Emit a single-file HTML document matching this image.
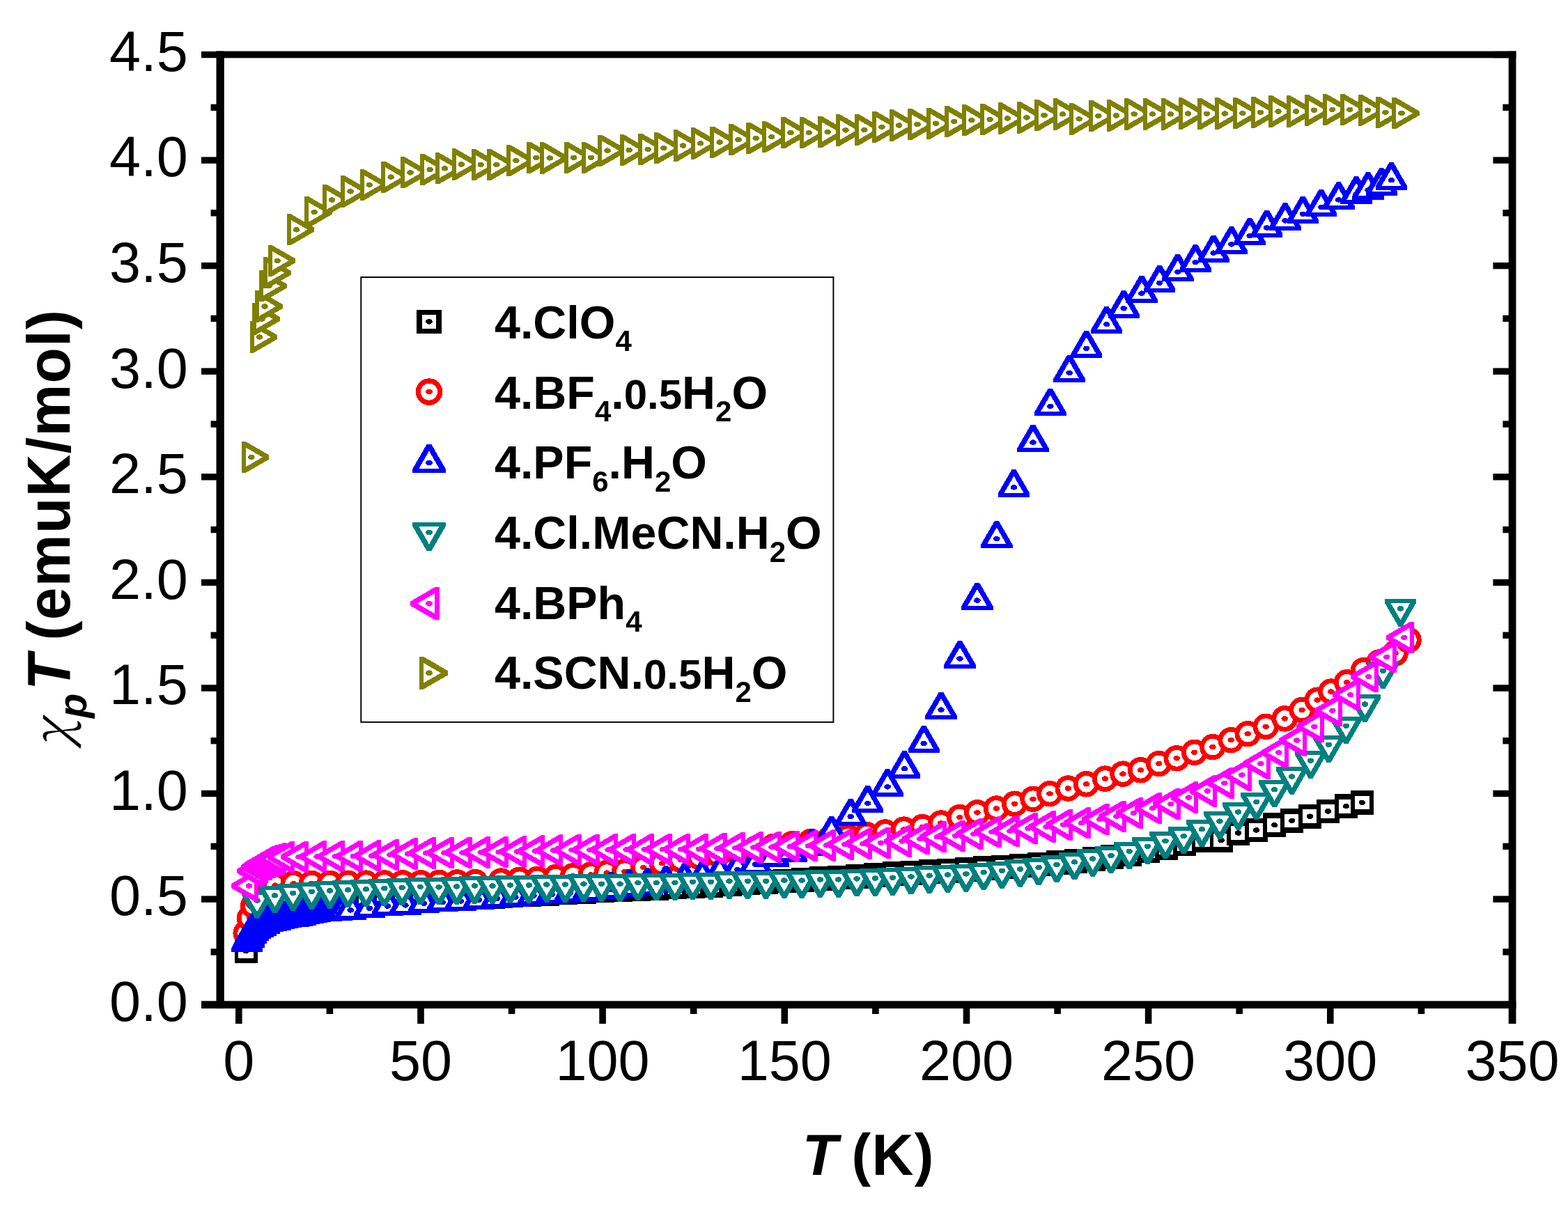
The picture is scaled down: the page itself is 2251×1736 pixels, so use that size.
<!DOCTYPE html>
<html><head><meta charset="utf-8"><title>chiT vs T</title>
<style>html,body{margin:0;padding:0;background:#fff;} svg{display:block;}</style></head>
<body><svg width="2251" height="1736" viewBox="0 0 2251 1736">
<rect width="2251" height="1736" fill="#fff"/>
<g shape-rendering="crispEdges">
<rect x="336.5" y="1348.4" width="33.0" height="34.7" fill="#000000"/><rect x="342.1" y="1355.8" width="21.8" height="19.9" fill="#fff"/><ellipse cx="353.0" cy="1365.7" rx="4.8" ry="3.8" fill="#000000"/>
<rect x="342.0" y="1325.4" width="33.0" height="34.7" fill="#000000"/><rect x="347.6" y="1332.8" width="21.8" height="19.9" fill="#fff"/><ellipse cx="358.5" cy="1342.7" rx="4.8" ry="3.8" fill="#000000"/>
<rect x="344.6" y="1323.1" width="33.0" height="34.7" fill="#000000"/><rect x="350.2" y="1330.5" width="21.8" height="19.9" fill="#fff"/><ellipse cx="361.1" cy="1340.4" rx="4.8" ry="3.8" fill="#000000"/>
<rect x="347.2" y="1320.8" width="33.0" height="34.7" fill="#000000"/><rect x="352.8" y="1328.1" width="21.8" height="19.9" fill="#fff"/><ellipse cx="363.7" cy="1338.1" rx="4.8" ry="3.8" fill="#000000"/>
<rect x="349.8" y="1316.2" width="33.0" height="34.7" fill="#000000"/><rect x="355.4" y="1323.6" width="21.8" height="19.9" fill="#fff"/><ellipse cx="366.3" cy="1333.6" rx="4.8" ry="3.8" fill="#000000"/>
<rect x="352.4" y="1311.7" width="33.0" height="34.7" fill="#000000"/><rect x="358.0" y="1319.0" width="21.8" height="19.9" fill="#fff"/><ellipse cx="368.9" cy="1329.0" rx="4.8" ry="3.8" fill="#000000"/>
<rect x="357.6" y="1308.7" width="33.0" height="34.7" fill="#000000"/><rect x="363.2" y="1316.0" width="21.8" height="19.9" fill="#fff"/><ellipse cx="374.1" cy="1326.0" rx="4.8" ry="3.8" fill="#000000"/>
<rect x="362.9" y="1305.7" width="33.0" height="34.7" fill="#000000"/><rect x="368.5" y="1313.0" width="21.8" height="19.9" fill="#fff"/><ellipse cx="379.4" cy="1323.0" rx="4.8" ry="3.8" fill="#000000"/>
<rect x="368.1" y="1304.1" width="33.0" height="34.7" fill="#000000"/><rect x="373.7" y="1311.5" width="21.8" height="19.9" fill="#fff"/><ellipse cx="384.6" cy="1321.4" rx="4.8" ry="3.8" fill="#000000"/>
<rect x="373.3" y="1302.6" width="33.0" height="34.7" fill="#000000"/><rect x="378.9" y="1310.0" width="21.8" height="19.9" fill="#fff"/><ellipse cx="389.8" cy="1319.9" rx="4.8" ry="3.8" fill="#000000"/>
<rect x="378.5" y="1301.1" width="33.0" height="34.7" fill="#000000"/><rect x="384.1" y="1308.5" width="21.8" height="19.9" fill="#fff"/><ellipse cx="395.0" cy="1318.4" rx="4.8" ry="3.8" fill="#000000"/>
<rect x="404.7" y="1295.0" width="33.0" height="34.7" fill="#000000"/><rect x="410.3" y="1302.3" width="21.8" height="19.9" fill="#fff"/><ellipse cx="421.2" cy="1312.3" rx="4.8" ry="3.8" fill="#000000"/>
<rect x="430.8" y="1289.0" width="33.0" height="34.7" fill="#000000"/><rect x="436.4" y="1296.3" width="21.8" height="19.9" fill="#fff"/><ellipse cx="447.3" cy="1306.3" rx="4.8" ry="3.8" fill="#000000"/>
<rect x="456.9" y="1287.0" width="33.0" height="34.7" fill="#000000"/><rect x="462.5" y="1294.3" width="21.8" height="19.9" fill="#fff"/><ellipse cx="473.4" cy="1304.3" rx="4.8" ry="3.8" fill="#000000"/>
<rect x="483.0" y="1285.0" width="33.0" height="34.7" fill="#000000"/><rect x="488.6" y="1292.3" width="21.8" height="19.9" fill="#fff"/><ellipse cx="499.5" cy="1302.3" rx="4.8" ry="3.8" fill="#000000"/>
<rect x="509.1" y="1282.2" width="33.0" height="34.7" fill="#000000"/><rect x="514.7" y="1289.5" width="21.8" height="19.9" fill="#fff"/><ellipse cx="525.6" cy="1299.5" rx="4.8" ry="3.8" fill="#000000"/>
<rect x="535.2" y="1279.2" width="33.0" height="34.7" fill="#000000"/><rect x="540.8" y="1286.6" width="21.8" height="19.9" fill="#fff"/><ellipse cx="551.7" cy="1296.6" rx="4.8" ry="3.8" fill="#000000"/>
<rect x="561.4" y="1277.2" width="33.0" height="34.7" fill="#000000"/><rect x="567.0" y="1284.6" width="21.8" height="19.9" fill="#fff"/><ellipse cx="577.9" cy="1294.6" rx="4.8" ry="3.8" fill="#000000"/>
<rect x="587.5" y="1275.2" width="33.0" height="34.7" fill="#000000"/><rect x="593.1" y="1282.6" width="21.8" height="19.9" fill="#fff"/><ellipse cx="604.0" cy="1292.6" rx="4.8" ry="3.8" fill="#000000"/>
<rect x="613.6" y="1274.0" width="33.0" height="34.7" fill="#000000"/><rect x="619.2" y="1281.3" width="21.8" height="19.9" fill="#fff"/><ellipse cx="630.1" cy="1291.3" rx="4.8" ry="3.8" fill="#000000"/>
<rect x="639.7" y="1272.7" width="33.0" height="34.7" fill="#000000"/><rect x="645.3" y="1280.0" width="21.8" height="19.9" fill="#fff"/><ellipse cx="656.2" cy="1290.0" rx="4.8" ry="3.8" fill="#000000"/>
<rect x="665.8" y="1271.4" width="33.0" height="34.7" fill="#000000"/><rect x="671.4" y="1278.8" width="21.8" height="19.9" fill="#fff"/><ellipse cx="682.3" cy="1288.7" rx="4.8" ry="3.8" fill="#000000"/>
<rect x="691.9" y="1270.0" width="33.0" height="34.7" fill="#000000"/><rect x="697.5" y="1277.3" width="21.8" height="19.9" fill="#fff"/><ellipse cx="708.4" cy="1287.3" rx="4.8" ry="3.8" fill="#000000"/>
<rect x="718.1" y="1268.6" width="33.0" height="34.7" fill="#000000"/><rect x="723.7" y="1276.0" width="21.8" height="19.9" fill="#fff"/><ellipse cx="734.6" cy="1285.9" rx="4.8" ry="3.8" fill="#000000"/>
<rect x="744.2" y="1267.2" width="33.0" height="34.7" fill="#000000"/><rect x="749.8" y="1274.5" width="21.8" height="19.9" fill="#fff"/><ellipse cx="760.7" cy="1284.5" rx="4.8" ry="3.8" fill="#000000"/>
<rect x="770.3" y="1265.9" width="33.0" height="34.7" fill="#000000"/><rect x="775.9" y="1273.2" width="21.8" height="19.9" fill="#fff"/><ellipse cx="786.8" cy="1283.2" rx="4.8" ry="3.8" fill="#000000"/>
<rect x="796.4" y="1264.5" width="33.0" height="34.7" fill="#000000"/><rect x="802.0" y="1271.8" width="21.8" height="19.9" fill="#fff"/><ellipse cx="812.9" cy="1281.8" rx="4.8" ry="3.8" fill="#000000"/>
<rect x="822.5" y="1263.1" width="33.0" height="34.7" fill="#000000"/><rect x="828.1" y="1270.5" width="21.8" height="19.9" fill="#fff"/><ellipse cx="839.0" cy="1280.4" rx="4.8" ry="3.8" fill="#000000"/>
<rect x="848.6" y="1261.7" width="33.0" height="34.7" fill="#000000"/><rect x="854.2" y="1269.0" width="21.8" height="19.9" fill="#fff"/><ellipse cx="865.1" cy="1279.0" rx="4.8" ry="3.8" fill="#000000"/>
<rect x="874.8" y="1260.4" width="33.0" height="34.7" fill="#000000"/><rect x="880.4" y="1267.8" width="21.8" height="19.9" fill="#fff"/><ellipse cx="891.3" cy="1277.7" rx="4.8" ry="3.8" fill="#000000"/>
<rect x="900.9" y="1259.1" width="33.0" height="34.7" fill="#000000"/><rect x="906.5" y="1266.5" width="21.8" height="19.9" fill="#fff"/><ellipse cx="917.4" cy="1276.4" rx="4.8" ry="3.8" fill="#000000"/>
<rect x="927.0" y="1257.8" width="33.0" height="34.7" fill="#000000"/><rect x="932.6" y="1265.1" width="21.8" height="19.9" fill="#fff"/><ellipse cx="943.5" cy="1275.1" rx="4.8" ry="3.8" fill="#000000"/>
<rect x="953.1" y="1256.6" width="33.0" height="34.7" fill="#000000"/><rect x="958.7" y="1264.0" width="21.8" height="19.9" fill="#fff"/><ellipse cx="969.6" cy="1273.9" rx="4.8" ry="3.8" fill="#000000"/>
<rect x="979.2" y="1255.2" width="33.0" height="34.7" fill="#000000"/><rect x="984.8" y="1262.6" width="21.8" height="19.9" fill="#fff"/><ellipse cx="995.7" cy="1272.6" rx="4.8" ry="3.8" fill="#000000"/>
<rect x="1005.3" y="1253.8" width="33.0" height="34.7" fill="#000000"/><rect x="1010.9" y="1261.1" width="21.8" height="19.9" fill="#fff"/><ellipse cx="1021.8" cy="1271.1" rx="4.8" ry="3.8" fill="#000000"/>
<rect x="1031.5" y="1252.2" width="33.0" height="34.7" fill="#000000"/><rect x="1037.1" y="1259.5" width="21.8" height="19.9" fill="#fff"/><ellipse cx="1048.0" cy="1269.5" rx="4.8" ry="3.8" fill="#000000"/>
<rect x="1057.6" y="1250.6" width="33.0" height="34.7" fill="#000000"/><rect x="1063.2" y="1258.0" width="21.8" height="19.9" fill="#fff"/><ellipse cx="1074.1" cy="1267.9" rx="4.8" ry="3.8" fill="#000000"/>
<rect x="1083.7" y="1249.0" width="33.0" height="34.7" fill="#000000"/><rect x="1089.3" y="1256.3" width="21.8" height="19.9" fill="#fff"/><ellipse cx="1100.2" cy="1266.3" rx="4.8" ry="3.8" fill="#000000"/>
<rect x="1109.8" y="1247.5" width="33.0" height="34.7" fill="#000000"/><rect x="1115.4" y="1254.8" width="21.8" height="19.9" fill="#fff"/><ellipse cx="1126.3" cy="1264.8" rx="4.8" ry="3.8" fill="#000000"/>
<rect x="1135.9" y="1245.8" width="33.0" height="34.7" fill="#000000"/><rect x="1141.5" y="1253.1" width="21.8" height="19.9" fill="#fff"/><ellipse cx="1152.4" cy="1263.1" rx="4.8" ry="3.8" fill="#000000"/>
<rect x="1162.0" y="1244.2" width="33.0" height="34.7" fill="#000000"/><rect x="1167.6" y="1251.5" width="21.8" height="19.9" fill="#fff"/><ellipse cx="1178.5" cy="1261.5" rx="4.8" ry="3.8" fill="#000000"/>
<rect x="1188.2" y="1242.5" width="33.0" height="34.7" fill="#000000"/><rect x="1193.8" y="1249.8" width="21.8" height="19.9" fill="#fff"/><ellipse cx="1204.7" cy="1259.8" rx="4.8" ry="3.8" fill="#000000"/>
<rect x="1214.3" y="1240.8" width="33.0" height="34.7" fill="#000000"/><rect x="1219.9" y="1248.1" width="21.8" height="19.9" fill="#fff"/><ellipse cx="1230.8" cy="1258.1" rx="4.8" ry="3.8" fill="#000000"/>
<rect x="1240.4" y="1239.1" width="33.0" height="34.7" fill="#000000"/><rect x="1246.0" y="1246.5" width="21.8" height="19.9" fill="#fff"/><ellipse cx="1256.9" cy="1256.4" rx="4.8" ry="3.8" fill="#000000"/>
<rect x="1266.5" y="1237.4" width="33.0" height="34.7" fill="#000000"/><rect x="1272.1" y="1244.8" width="21.8" height="19.9" fill="#fff"/><ellipse cx="1283.0" cy="1254.7" rx="4.8" ry="3.8" fill="#000000"/>
<rect x="1292.6" y="1235.9" width="33.0" height="34.7" fill="#000000"/><rect x="1298.2" y="1243.2" width="21.8" height="19.9" fill="#fff"/><ellipse cx="1309.1" cy="1253.2" rx="4.8" ry="3.8" fill="#000000"/>
<rect x="1318.7" y="1234.4" width="33.0" height="34.7" fill="#000000"/><rect x="1324.3" y="1241.8" width="21.8" height="19.9" fill="#fff"/><ellipse cx="1335.2" cy="1251.7" rx="4.8" ry="3.8" fill="#000000"/>
<rect x="1344.9" y="1232.9" width="33.0" height="34.7" fill="#000000"/><rect x="1350.5" y="1240.2" width="21.8" height="19.9" fill="#fff"/><ellipse cx="1361.4" cy="1250.2" rx="4.8" ry="3.8" fill="#000000"/>
<rect x="1371.0" y="1231.4" width="33.0" height="34.7" fill="#000000"/><rect x="1376.6" y="1238.8" width="21.8" height="19.9" fill="#fff"/><ellipse cx="1387.5" cy="1248.7" rx="4.8" ry="3.8" fill="#000000"/>
<rect x="1397.1" y="1229.4" width="33.0" height="34.7" fill="#000000"/><rect x="1402.7" y="1236.8" width="21.8" height="19.9" fill="#fff"/><ellipse cx="1413.6" cy="1246.7" rx="4.8" ry="3.8" fill="#000000"/>
<rect x="1423.2" y="1227.5" width="33.0" height="34.7" fill="#000000"/><rect x="1428.8" y="1234.8" width="21.8" height="19.9" fill="#fff"/><ellipse cx="1439.7" cy="1244.8" rx="4.8" ry="3.8" fill="#000000"/>
<rect x="1449.3" y="1225.6" width="33.0" height="34.7" fill="#000000"/><rect x="1454.9" y="1233.0" width="21.8" height="19.9" fill="#fff"/><ellipse cx="1465.8" cy="1242.9" rx="4.8" ry="3.8" fill="#000000"/>
<rect x="1475.4" y="1223.7" width="33.0" height="34.7" fill="#000000"/><rect x="1481.0" y="1231.0" width="21.8" height="19.9" fill="#fff"/><ellipse cx="1491.9" cy="1241.0" rx="4.8" ry="3.8" fill="#000000"/>
<rect x="1501.6" y="1221.4" width="33.0" height="34.7" fill="#000000"/><rect x="1507.2" y="1228.8" width="21.8" height="19.9" fill="#fff"/><ellipse cx="1518.1" cy="1238.7" rx="4.8" ry="3.8" fill="#000000"/>
<rect x="1527.7" y="1218.8" width="33.0" height="34.7" fill="#000000"/><rect x="1533.3" y="1226.1" width="21.8" height="19.9" fill="#fff"/><ellipse cx="1544.2" cy="1236.1" rx="4.8" ry="3.8" fill="#000000"/>
<rect x="1553.8" y="1216.2" width="33.0" height="34.7" fill="#000000"/><rect x="1559.4" y="1223.5" width="21.8" height="19.9" fill="#fff"/><ellipse cx="1570.3" cy="1233.5" rx="4.8" ry="3.8" fill="#000000"/>
<rect x="1579.9" y="1212.9" width="33.0" height="34.7" fill="#000000"/><rect x="1585.5" y="1220.2" width="21.8" height="19.9" fill="#fff"/><ellipse cx="1596.4" cy="1230.2" rx="4.8" ry="3.8" fill="#000000"/>
<rect x="1606.0" y="1209.6" width="33.0" height="34.7" fill="#000000"/><rect x="1611.6" y="1217.0" width="21.8" height="19.9" fill="#fff"/><ellipse cx="1622.5" cy="1226.9" rx="4.8" ry="3.8" fill="#000000"/>
<rect x="1632.1" y="1204.7" width="33.0" height="34.7" fill="#000000"/><rect x="1637.7" y="1212.0" width="21.8" height="19.9" fill="#fff"/><ellipse cx="1648.6" cy="1222.0" rx="4.8" ry="3.8" fill="#000000"/>
<rect x="1658.3" y="1199.8" width="33.0" height="34.7" fill="#000000"/><rect x="1663.9" y="1207.1" width="21.8" height="19.9" fill="#fff"/><ellipse cx="1674.8" cy="1217.1" rx="4.8" ry="3.8" fill="#000000"/>
<rect x="1684.4" y="1194.5" width="33.0" height="34.7" fill="#000000"/><rect x="1690.0" y="1201.8" width="21.8" height="19.9" fill="#fff"/><ellipse cx="1700.9" cy="1211.8" rx="4.8" ry="3.8" fill="#000000"/>
<rect x="1710.5" y="1189.2" width="33.0" height="34.7" fill="#000000"/><rect x="1716.1" y="1196.5" width="21.8" height="19.9" fill="#fff"/><ellipse cx="1727.0" cy="1206.5" rx="4.8" ry="3.8" fill="#000000"/>
<rect x="1736.6" y="1189.2" width="33.0" height="34.7" fill="#000000"/><rect x="1742.2" y="1196.5" width="21.8" height="19.9" fill="#fff"/><ellipse cx="1753.1" cy="1206.5" rx="4.8" ry="3.8" fill="#000000"/>
<rect x="1761.2" y="1178.8" width="33.0" height="34.7" fill="#000000"/><rect x="1766.8" y="1186.1" width="21.8" height="19.9" fill="#fff"/><ellipse cx="1777.7" cy="1196.1" rx="4.8" ry="3.8" fill="#000000"/>
<rect x="1787.2" y="1174.6" width="33.0" height="34.7" fill="#000000"/><rect x="1792.8" y="1182.0" width="21.8" height="19.9" fill="#fff"/><ellipse cx="1803.7" cy="1191.9" rx="4.8" ry="3.8" fill="#000000"/>
<rect x="1813.1" y="1167.2" width="33.0" height="34.7" fill="#000000"/><rect x="1818.7" y="1174.6" width="21.8" height="19.9" fill="#fff"/><ellipse cx="1829.6" cy="1184.6" rx="4.8" ry="3.8" fill="#000000"/>
<rect x="1838.1" y="1161.1" width="33.0" height="34.7" fill="#000000"/><rect x="1843.7" y="1168.5" width="21.8" height="19.9" fill="#fff"/><ellipse cx="1854.6" cy="1178.4" rx="4.8" ry="3.8" fill="#000000"/>
<rect x="1864.1" y="1154.9" width="33.0" height="34.7" fill="#000000"/><rect x="1869.7" y="1162.2" width="21.8" height="19.9" fill="#fff"/><ellipse cx="1880.6" cy="1172.2" rx="4.8" ry="3.8" fill="#000000"/>
<rect x="1890.0" y="1147.6" width="33.0" height="34.7" fill="#000000"/><rect x="1895.6" y="1155.0" width="21.8" height="19.9" fill="#fff"/><ellipse cx="1906.5" cy="1164.9" rx="4.8" ry="3.8" fill="#000000"/>
<rect x="1916.0" y="1140.2" width="33.0" height="34.7" fill="#000000"/><rect x="1921.6" y="1147.6" width="21.8" height="19.9" fill="#fff"/><ellipse cx="1932.5" cy="1157.6" rx="4.8" ry="3.8" fill="#000000"/>
<rect x="1938.9" y="1135.1" width="33.0" height="34.7" fill="#000000"/><rect x="1944.5" y="1142.5" width="21.8" height="19.9" fill="#fff"/><ellipse cx="1955.4" cy="1152.4" rx="4.8" ry="3.8" fill="#000000"/>
<circle cx="353.2" cy="1339.9" r="15.3" fill="#fff" stroke="#ff0000" stroke-width="6.9"/><ellipse cx="353.2" cy="1339.9" rx="4.8" ry="3.8" fill="#ff0000"/>
<circle cx="358.5" cy="1318.4" r="15.3" fill="#fff" stroke="#ff0000" stroke-width="6.9"/><ellipse cx="358.5" cy="1318.4" rx="4.8" ry="3.8" fill="#ff0000"/>
<circle cx="363.7" cy="1300.2" r="15.3" fill="#fff" stroke="#ff0000" stroke-width="6.9"/><ellipse cx="363.7" cy="1300.2" rx="4.8" ry="3.8" fill="#ff0000"/>
<circle cx="368.9" cy="1290.2" r="15.3" fill="#fff" stroke="#ff0000" stroke-width="6.9"/><ellipse cx="368.9" cy="1290.2" rx="4.8" ry="3.8" fill="#ff0000"/>
<circle cx="374.1" cy="1282.9" r="15.3" fill="#fff" stroke="#ff0000" stroke-width="6.9"/><ellipse cx="374.1" cy="1282.9" rx="4.8" ry="3.8" fill="#ff0000"/>
<circle cx="379.4" cy="1278.1" r="15.3" fill="#fff" stroke="#ff0000" stroke-width="6.9"/><ellipse cx="379.4" cy="1278.1" rx="4.8" ry="3.8" fill="#ff0000"/>
<circle cx="384.6" cy="1275.1" r="15.3" fill="#fff" stroke="#ff0000" stroke-width="6.9"/><ellipse cx="384.6" cy="1275.1" rx="4.8" ry="3.8" fill="#ff0000"/>
<circle cx="389.8" cy="1273.1" r="15.3" fill="#fff" stroke="#ff0000" stroke-width="6.9"/><ellipse cx="389.8" cy="1273.1" rx="4.8" ry="3.8" fill="#ff0000"/>
<circle cx="395.0" cy="1271.1" r="15.3" fill="#fff" stroke="#ff0000" stroke-width="6.9"/><ellipse cx="395.0" cy="1271.1" rx="4.8" ry="3.8" fill="#ff0000"/>
<circle cx="421.2" cy="1268.7" r="15.3" fill="#fff" stroke="#ff0000" stroke-width="6.9"/><ellipse cx="421.2" cy="1268.7" rx="4.8" ry="3.8" fill="#ff0000"/>
<circle cx="447.3" cy="1268.4" r="15.3" fill="#fff" stroke="#ff0000" stroke-width="6.9"/><ellipse cx="447.3" cy="1268.4" rx="4.8" ry="3.8" fill="#ff0000"/>
<circle cx="473.4" cy="1268.3" r="15.3" fill="#fff" stroke="#ff0000" stroke-width="6.9"/><ellipse cx="473.4" cy="1268.3" rx="4.8" ry="3.8" fill="#ff0000"/>
<circle cx="499.5" cy="1268.2" r="15.3" fill="#fff" stroke="#ff0000" stroke-width="6.9"/><ellipse cx="499.5" cy="1268.2" rx="4.8" ry="3.8" fill="#ff0000"/>
<circle cx="525.6" cy="1268.1" r="15.3" fill="#fff" stroke="#ff0000" stroke-width="6.9"/><ellipse cx="525.6" cy="1268.1" rx="4.8" ry="3.8" fill="#ff0000"/>
<circle cx="551.7" cy="1268.0" r="15.3" fill="#fff" stroke="#ff0000" stroke-width="6.9"/><ellipse cx="551.7" cy="1268.0" rx="4.8" ry="3.8" fill="#ff0000"/>
<circle cx="577.9" cy="1267.9" r="15.3" fill="#fff" stroke="#ff0000" stroke-width="6.9"/><ellipse cx="577.9" cy="1267.9" rx="4.8" ry="3.8" fill="#ff0000"/>
<circle cx="604.0" cy="1267.8" r="15.3" fill="#fff" stroke="#ff0000" stroke-width="6.9"/><ellipse cx="604.0" cy="1267.8" rx="4.8" ry="3.8" fill="#ff0000"/>
<circle cx="630.1" cy="1267.4" r="15.3" fill="#fff" stroke="#ff0000" stroke-width="6.9"/><ellipse cx="630.1" cy="1267.4" rx="4.8" ry="3.8" fill="#ff0000"/>
<circle cx="656.2" cy="1267.0" r="15.3" fill="#fff" stroke="#ff0000" stroke-width="6.9"/><ellipse cx="656.2" cy="1267.0" rx="4.8" ry="3.8" fill="#ff0000"/>
<circle cx="682.3" cy="1266.6" r="15.3" fill="#fff" stroke="#ff0000" stroke-width="6.9"/><ellipse cx="682.3" cy="1266.6" rx="4.8" ry="3.8" fill="#ff0000"/>
<circle cx="719.2" cy="1265.1" r="15.3" fill="#fff" stroke="#ff0000" stroke-width="6.9"/><ellipse cx="719.2" cy="1265.1" rx="4.8" ry="3.8" fill="#ff0000"/>
<circle cx="745.8" cy="1263.3" r="15.3" fill="#fff" stroke="#ff0000" stroke-width="6.9"/><ellipse cx="745.8" cy="1263.3" rx="4.8" ry="3.8" fill="#ff0000"/>
<circle cx="771.4" cy="1262.3" r="15.3" fill="#fff" stroke="#ff0000" stroke-width="6.9"/><ellipse cx="771.4" cy="1262.3" rx="4.8" ry="3.8" fill="#ff0000"/>
<circle cx="798.0" cy="1259.6" r="15.3" fill="#fff" stroke="#ff0000" stroke-width="6.9"/><ellipse cx="798.0" cy="1259.6" rx="4.8" ry="3.8" fill="#ff0000"/>
<circle cx="822.7" cy="1257.8" r="15.3" fill="#fff" stroke="#ff0000" stroke-width="6.9"/><ellipse cx="822.7" cy="1257.8" rx="4.8" ry="3.8" fill="#ff0000"/>
<circle cx="848.4" cy="1255.9" r="15.3" fill="#fff" stroke="#ff0000" stroke-width="6.9"/><ellipse cx="848.4" cy="1255.9" rx="4.8" ry="3.8" fill="#ff0000"/>
<circle cx="871.2" cy="1253.2" r="15.3" fill="#fff" stroke="#ff0000" stroke-width="6.9"/><ellipse cx="871.2" cy="1253.2" rx="4.8" ry="3.8" fill="#ff0000"/>
<circle cx="896.9" cy="1251.3" r="15.3" fill="#fff" stroke="#ff0000" stroke-width="6.9"/><ellipse cx="896.9" cy="1251.3" rx="4.8" ry="3.8" fill="#ff0000"/>
<circle cx="923.7" cy="1245.7" r="15.3" fill="#fff" stroke="#ff0000" stroke-width="6.9"/><ellipse cx="923.7" cy="1245.7" rx="4.8" ry="3.8" fill="#ff0000"/>
<circle cx="950.4" cy="1239.7" r="15.3" fill="#fff" stroke="#ff0000" stroke-width="6.9"/><ellipse cx="950.4" cy="1239.7" rx="4.8" ry="3.8" fill="#ff0000"/>
<circle cx="977.1" cy="1234.4" r="15.3" fill="#fff" stroke="#ff0000" stroke-width="6.9"/><ellipse cx="977.1" cy="1234.4" rx="4.8" ry="3.8" fill="#ff0000"/>
<circle cx="1003.8" cy="1230.4" r="15.3" fill="#fff" stroke="#ff0000" stroke-width="6.9"/><ellipse cx="1003.8" cy="1230.4" rx="4.8" ry="3.8" fill="#ff0000"/>
<circle cx="1030.5" cy="1226.9" r="15.3" fill="#fff" stroke="#ff0000" stroke-width="6.9"/><ellipse cx="1030.5" cy="1226.9" rx="4.8" ry="3.8" fill="#ff0000"/>
<circle cx="1057.2" cy="1223.0" r="15.3" fill="#fff" stroke="#ff0000" stroke-width="6.9"/><ellipse cx="1057.2" cy="1223.0" rx="4.8" ry="3.8" fill="#ff0000"/>
<circle cx="1083.9" cy="1219.1" r="15.3" fill="#fff" stroke="#ff0000" stroke-width="6.9"/><ellipse cx="1083.9" cy="1219.1" rx="4.8" ry="3.8" fill="#ff0000"/>
<circle cx="1110.6" cy="1215.4" r="15.3" fill="#fff" stroke="#ff0000" stroke-width="6.9"/><ellipse cx="1110.6" cy="1215.4" rx="4.8" ry="3.8" fill="#ff0000"/>
<circle cx="1137.3" cy="1211.8" r="15.3" fill="#fff" stroke="#ff0000" stroke-width="6.9"/><ellipse cx="1137.3" cy="1211.8" rx="4.8" ry="3.8" fill="#ff0000"/>
<circle cx="1164.0" cy="1208.3" r="15.3" fill="#fff" stroke="#ff0000" stroke-width="6.9"/><ellipse cx="1164.0" cy="1208.3" rx="4.8" ry="3.8" fill="#ff0000"/>
<circle cx="1190.7" cy="1204.8" r="15.3" fill="#fff" stroke="#ff0000" stroke-width="6.9"/><ellipse cx="1190.7" cy="1204.8" rx="4.8" ry="3.8" fill="#ff0000"/>
<circle cx="1217.4" cy="1201.7" r="15.3" fill="#fff" stroke="#ff0000" stroke-width="6.9"/><ellipse cx="1217.4" cy="1201.7" rx="4.8" ry="3.8" fill="#ff0000"/>
<circle cx="1244.1" cy="1198.6" r="15.3" fill="#fff" stroke="#ff0000" stroke-width="6.9"/><ellipse cx="1244.1" cy="1198.6" rx="4.8" ry="3.8" fill="#ff0000"/>
<circle cx="1270.8" cy="1195.0" r="15.3" fill="#fff" stroke="#ff0000" stroke-width="6.9"/><ellipse cx="1270.8" cy="1195.0" rx="4.8" ry="3.8" fill="#ff0000"/>
<circle cx="1297.5" cy="1191.1" r="15.3" fill="#fff" stroke="#ff0000" stroke-width="6.9"/><ellipse cx="1297.5" cy="1191.1" rx="4.8" ry="3.8" fill="#ff0000"/>
<circle cx="1324.2" cy="1187.5" r="15.3" fill="#fff" stroke="#ff0000" stroke-width="6.9"/><ellipse cx="1324.2" cy="1187.5" rx="4.8" ry="3.8" fill="#ff0000"/>
<circle cx="1350.9" cy="1182.0" r="15.3" fill="#fff" stroke="#ff0000" stroke-width="6.9"/><ellipse cx="1350.9" cy="1182.0" rx="4.8" ry="3.8" fill="#ff0000"/>
<circle cx="1377.7" cy="1173.6" r="15.3" fill="#fff" stroke="#ff0000" stroke-width="6.9"/><ellipse cx="1377.7" cy="1173.6" rx="4.8" ry="3.8" fill="#ff0000"/>
<circle cx="1402.9" cy="1166.8" r="15.3" fill="#fff" stroke="#ff0000" stroke-width="6.9"/><ellipse cx="1402.9" cy="1166.8" rx="4.8" ry="3.8" fill="#ff0000"/>
<circle cx="1430.4" cy="1161.0" r="15.3" fill="#fff" stroke="#ff0000" stroke-width="6.9"/><ellipse cx="1430.4" cy="1161.0" rx="4.8" ry="3.8" fill="#ff0000"/>
<circle cx="1456.7" cy="1154.2" r="15.3" fill="#fff" stroke="#ff0000" stroke-width="6.9"/><ellipse cx="1456.7" cy="1154.2" rx="4.8" ry="3.8" fill="#ff0000"/>
<circle cx="1483.0" cy="1147.3" r="15.3" fill="#fff" stroke="#ff0000" stroke-width="6.9"/><ellipse cx="1483.0" cy="1147.3" rx="4.8" ry="3.8" fill="#ff0000"/>
<circle cx="1507.0" cy="1139.7" r="15.3" fill="#fff" stroke="#ff0000" stroke-width="6.9"/><ellipse cx="1507.0" cy="1139.7" rx="4.8" ry="3.8" fill="#ff0000"/>
<circle cx="1533.3" cy="1132.0" r="15.3" fill="#fff" stroke="#ff0000" stroke-width="6.9"/><ellipse cx="1533.3" cy="1132.0" rx="4.8" ry="3.8" fill="#ff0000"/>
<circle cx="1559.5" cy="1125.8" r="15.3" fill="#fff" stroke="#ff0000" stroke-width="6.9"/><ellipse cx="1559.5" cy="1125.8" rx="4.8" ry="3.8" fill="#ff0000"/>
<circle cx="1586.5" cy="1118.1" r="15.3" fill="#fff" stroke="#ff0000" stroke-width="6.9"/><ellipse cx="1586.5" cy="1118.1" rx="4.8" ry="3.8" fill="#ff0000"/>
<circle cx="1612.0" cy="1111.2" r="15.3" fill="#fff" stroke="#ff0000" stroke-width="6.9"/><ellipse cx="1612.0" cy="1111.2" rx="4.8" ry="3.8" fill="#ff0000"/>
<circle cx="1637.5" cy="1105.8" r="15.3" fill="#fff" stroke="#ff0000" stroke-width="6.9"/><ellipse cx="1637.5" cy="1105.8" rx="4.8" ry="3.8" fill="#ff0000"/>
<circle cx="1663.7" cy="1096.5" r="15.3" fill="#fff" stroke="#ff0000" stroke-width="6.9"/><ellipse cx="1663.7" cy="1096.5" rx="4.8" ry="3.8" fill="#ff0000"/>
<circle cx="1689.2" cy="1088.8" r="15.3" fill="#fff" stroke="#ff0000" stroke-width="6.9"/><ellipse cx="1689.2" cy="1088.8" rx="4.8" ry="3.8" fill="#ff0000"/>
<circle cx="1714.7" cy="1080.3" r="15.3" fill="#fff" stroke="#ff0000" stroke-width="6.9"/><ellipse cx="1714.7" cy="1080.3" rx="4.8" ry="3.8" fill="#ff0000"/>
<circle cx="1740.9" cy="1072.6" r="15.3" fill="#fff" stroke="#ff0000" stroke-width="6.9"/><ellipse cx="1740.9" cy="1072.6" rx="4.8" ry="3.8" fill="#ff0000"/>
<circle cx="1767.2" cy="1062.7" r="15.3" fill="#fff" stroke="#ff0000" stroke-width="6.9"/><ellipse cx="1767.2" cy="1062.7" rx="4.8" ry="3.8" fill="#ff0000"/>
<circle cx="1791.2" cy="1053.7" r="15.3" fill="#fff" stroke="#ff0000" stroke-width="6.9"/><ellipse cx="1791.2" cy="1053.7" rx="4.8" ry="3.8" fill="#ff0000"/>
<circle cx="1817.2" cy="1043.3" r="15.3" fill="#fff" stroke="#ff0000" stroke-width="6.9"/><ellipse cx="1817.2" cy="1043.3" rx="4.8" ry="3.8" fill="#ff0000"/>
<circle cx="1844.2" cy="1031.9" r="15.3" fill="#fff" stroke="#ff0000" stroke-width="6.9"/><ellipse cx="1844.2" cy="1031.9" rx="4.8" ry="3.8" fill="#ff0000"/>
<circle cx="1869.1" cy="1019.4" r="15.3" fill="#fff" stroke="#ff0000" stroke-width="6.9"/><ellipse cx="1869.1" cy="1019.4" rx="4.8" ry="3.8" fill="#ff0000"/>
<circle cx="1891.2" cy="1005.2" r="15.3" fill="#fff" stroke="#ff0000" stroke-width="6.9"/><ellipse cx="1891.2" cy="1005.2" rx="4.8" ry="3.8" fill="#ff0000"/>
<circle cx="1910.9" cy="993.1" r="15.3" fill="#fff" stroke="#ff0000" stroke-width="6.9"/><ellipse cx="1910.9" cy="993.1" rx="4.8" ry="3.8" fill="#ff0000"/>
<circle cx="1933.7" cy="979.8" r="15.3" fill="#fff" stroke="#ff0000" stroke-width="6.9"/><ellipse cx="1933.7" cy="979.8" rx="4.8" ry="3.8" fill="#ff0000"/>
<circle cx="1957.5" cy="962.7" r="15.3" fill="#fff" stroke="#ff0000" stroke-width="6.9"/><ellipse cx="1957.5" cy="962.7" rx="4.8" ry="3.8" fill="#ff0000"/>
<circle cx="1980.0" cy="951.0" r="15.3" fill="#fff" stroke="#ff0000" stroke-width="6.9"/><ellipse cx="1980.0" cy="951.0" rx="4.8" ry="3.8" fill="#ff0000"/>
<circle cx="2003.0" cy="938.0" r="15.3" fill="#fff" stroke="#ff0000" stroke-width="6.9"/><ellipse cx="2003.0" cy="938.0" rx="4.8" ry="3.8" fill="#ff0000"/>
<circle cx="2022.0" cy="919.0" r="15.3" fill="#fff" stroke="#ff0000" stroke-width="6.9"/><ellipse cx="2022.0" cy="919.0" rx="4.8" ry="3.8" fill="#ff0000"/>
<polygon points="351.3,1328.0 357.3,1328.0 376.9,1362.0 376.9,1367.4 331.7,1367.4 331.7,1362.0" fill="#0000ff"/><polygon points="354.3,1337.5 368.1,1361.4 340.5,1361.4" fill="#fff"/><ellipse cx="354.3" cy="1353.6" rx="4.8" ry="3.8" fill="#0000ff"/>
<polygon points="354.4,1321.8 360.4,1321.8 380.0,1355.8 380.0,1361.2 334.8,1361.2 334.8,1355.8" fill="#0000ff"/><polygon points="357.4,1331.3 371.2,1355.2 343.6,1355.2" fill="#fff"/><ellipse cx="357.4" cy="1347.4" rx="4.8" ry="3.8" fill="#0000ff"/>
<polygon points="357.6,1315.6 363.6,1315.6 383.2,1349.6 383.2,1355.0 338.0,1355.0 338.0,1349.6" fill="#0000ff"/><polygon points="360.6,1325.1 374.4,1349.0 346.8,1349.0" fill="#fff"/><ellipse cx="360.6" cy="1341.2" rx="4.8" ry="3.8" fill="#0000ff"/>
<polygon points="360.7,1311.2 366.7,1311.2 386.3,1345.2 386.3,1350.6 341.1,1350.6 341.1,1345.2" fill="#0000ff"/><polygon points="363.7,1320.7 377.5,1344.6 349.9,1344.6" fill="#fff"/><ellipse cx="363.7" cy="1336.8" rx="4.8" ry="3.8" fill="#0000ff"/>
<polygon points="363.8,1308.5 369.8,1308.5 389.4,1342.5 389.4,1347.9 344.2,1347.9 344.2,1342.5" fill="#0000ff"/><polygon points="366.8,1318.0 380.6,1341.9 353.0,1341.9" fill="#fff"/><ellipse cx="366.8" cy="1334.1" rx="4.8" ry="3.8" fill="#0000ff"/>
<polygon points="367.0,1306.2 373.0,1306.2 392.6,1340.2 392.6,1345.6 347.4,1345.6 347.4,1340.2" fill="#0000ff"/><polygon points="370.0,1315.7 383.8,1339.6 356.2,1339.6" fill="#fff"/><ellipse cx="370.0" cy="1331.8" rx="4.8" ry="3.8" fill="#0000ff"/>
<polygon points="371.1,1304.2 377.1,1304.2 396.8,1338.2 396.8,1343.6 351.5,1343.6 351.5,1338.2" fill="#0000ff"/><polygon points="374.1,1313.7 387.9,1337.6 360.3,1337.6" fill="#fff"/><ellipse cx="374.1" cy="1329.8" rx="4.8" ry="3.8" fill="#0000ff"/>
<polygon points="376.4,1301.6 382.4,1301.6 402.0,1335.6 402.0,1341.0 356.8,1341.0 356.8,1335.6" fill="#0000ff"/><polygon points="379.4,1311.1 393.2,1335.0 365.6,1335.0" fill="#fff"/><ellipse cx="379.4" cy="1327.2" rx="4.8" ry="3.8" fill="#0000ff"/>
<polygon points="381.6,1299.0 387.6,1299.0 407.2,1333.0 407.2,1338.4 362.0,1338.4 362.0,1333.0" fill="#0000ff"/><polygon points="384.6,1308.5 398.4,1332.4 370.8,1332.4" fill="#fff"/><ellipse cx="384.6" cy="1324.6" rx="4.8" ry="3.8" fill="#0000ff"/>
<polygon points="386.8,1297.4 392.8,1297.4 412.4,1331.4 412.4,1336.8 367.2,1336.8 367.2,1331.4" fill="#0000ff"/><polygon points="389.8,1306.9 403.6,1330.8 376.0,1330.8" fill="#fff"/><ellipse cx="389.8" cy="1323.0" rx="4.8" ry="3.8" fill="#0000ff"/>
<polygon points="392.0,1296.1 398.0,1296.1 417.6,1330.1 417.6,1335.5 372.4,1335.5 372.4,1330.1" fill="#0000ff"/><polygon points="395.0,1305.6 408.8,1329.5 381.2,1329.5" fill="#fff"/><ellipse cx="395.0" cy="1321.7" rx="4.8" ry="3.8" fill="#0000ff"/>
<polygon points="397.3,1294.9 403.3,1294.9 422.9,1328.9 422.9,1334.3 377.7,1334.3 377.7,1328.9" fill="#0000ff"/><polygon points="400.3,1304.4 414.1,1328.3 386.5,1328.3" fill="#fff"/><ellipse cx="400.3" cy="1320.5" rx="4.8" ry="3.8" fill="#0000ff"/>
<polygon points="402.5,1293.6 408.5,1293.6 428.1,1327.6 428.1,1333.0 382.9,1333.0 382.9,1327.6" fill="#0000ff"/><polygon points="405.5,1303.1 419.3,1327.0 391.7,1327.0" fill="#fff"/><ellipse cx="405.5" cy="1319.2" rx="4.8" ry="3.8" fill="#0000ff"/>
<polygon points="407.7,1292.5 413.7,1292.5 433.3,1326.5 433.3,1331.9 388.1,1331.9 388.1,1326.5" fill="#0000ff"/><polygon points="410.7,1302.0 424.5,1325.9 396.9,1325.9" fill="#fff"/><ellipse cx="410.7" cy="1318.1" rx="4.8" ry="3.8" fill="#0000ff"/>
<polygon points="412.9,1291.9 418.9,1291.9 438.5,1325.9 438.5,1331.3 393.2,1331.3 393.2,1325.9" fill="#0000ff"/><polygon points="415.9,1301.4 429.7,1325.3 402.1,1325.3" fill="#fff"/><ellipse cx="415.9" cy="1317.5" rx="4.8" ry="3.8" fill="#0000ff"/>
<polygon points="418.2,1291.4 424.2,1291.4 443.8,1325.4 443.8,1330.8 398.6,1330.8 398.6,1325.4" fill="#0000ff"/><polygon points="421.2,1300.9 435.0,1324.8 407.4,1324.8" fill="#fff"/><ellipse cx="421.2" cy="1317.0" rx="4.8" ry="3.8" fill="#0000ff"/>
<polygon points="423.4,1290.4 429.4,1290.4 449.0,1324.4 449.0,1329.8 403.8,1329.8 403.8,1324.4" fill="#0000ff"/><polygon points="426.4,1299.9 440.2,1323.8 412.6,1323.8" fill="#fff"/><ellipse cx="426.4" cy="1316.0" rx="4.8" ry="3.8" fill="#0000ff"/>
<polygon points="428.6,1289.1 434.6,1289.1 454.2,1323.1 454.2,1328.5 409.0,1328.5 409.0,1323.1" fill="#0000ff"/><polygon points="431.6,1298.6 445.4,1322.5 417.8,1322.5" fill="#fff"/><ellipse cx="431.6" cy="1314.7" rx="4.8" ry="3.8" fill="#0000ff"/>
<polygon points="433.8,1287.8 439.8,1287.8 459.4,1321.8 459.4,1327.2 414.2,1327.2 414.2,1321.8" fill="#0000ff"/><polygon points="436.8,1297.3 450.6,1321.2 423.0,1321.2" fill="#fff"/><ellipse cx="436.8" cy="1313.4" rx="4.8" ry="3.8" fill="#0000ff"/>
<polygon points="439.0,1286.5 445.0,1286.5 464.6,1320.5 464.6,1325.9 419.4,1325.9 419.4,1320.5" fill="#0000ff"/><polygon points="442.0,1296.0 455.8,1319.9 428.2,1319.9" fill="#fff"/><ellipse cx="442.0" cy="1312.1" rx="4.8" ry="3.8" fill="#0000ff"/>
<polygon points="444.3,1285.3 450.3,1285.3 469.9,1319.3 469.9,1324.7 424.7,1324.7 424.7,1319.3" fill="#0000ff"/><polygon points="447.3,1294.8 461.1,1318.7 433.5,1318.7" fill="#fff"/><ellipse cx="447.3" cy="1310.9" rx="4.8" ry="3.8" fill="#0000ff"/>
<polygon points="449.5,1284.4 455.5,1284.4 475.1,1318.4 475.1,1323.8 429.9,1323.8 429.9,1318.4" fill="#0000ff"/><polygon points="452.5,1293.9 466.3,1317.8 438.7,1317.8" fill="#fff"/><ellipse cx="452.5" cy="1310.0" rx="4.8" ry="3.8" fill="#0000ff"/>
<polygon points="454.7,1284.0 460.7,1284.0 480.3,1318.0 480.3,1323.4 435.1,1323.4 435.1,1318.0" fill="#0000ff"/><polygon points="457.7,1293.5 471.5,1317.4 443.9,1317.4" fill="#fff"/><ellipse cx="457.7" cy="1309.6" rx="4.8" ry="3.8" fill="#0000ff"/>
<polygon points="459.9,1283.6 465.9,1283.6 485.5,1317.6 485.5,1323.0 440.2,1323.0 440.2,1317.6" fill="#0000ff"/><polygon points="462.9,1293.1 476.7,1317.0 449.1,1317.0" fill="#fff"/><ellipse cx="462.9" cy="1309.2" rx="4.8" ry="3.8" fill="#0000ff"/>
<polygon points="465.2,1283.2 471.2,1283.2 490.8,1317.2 490.8,1322.6 445.6,1322.6 445.6,1317.2" fill="#0000ff"/><polygon points="468.2,1292.7 482.0,1316.6 454.4,1316.6" fill="#fff"/><ellipse cx="468.2" cy="1308.8" rx="4.8" ry="3.8" fill="#0000ff"/>
<polygon points="470.4,1282.8 476.4,1282.8 496.0,1316.8 496.0,1322.2 450.8,1322.2 450.8,1316.8" fill="#0000ff"/><polygon points="473.4,1292.3 487.2,1316.2 459.6,1316.2" fill="#fff"/><ellipse cx="473.4" cy="1308.4" rx="4.8" ry="3.8" fill="#0000ff"/>
<polygon points="475.6,1282.5 481.6,1282.5 501.2,1316.5 501.2,1321.9 456.0,1321.9 456.0,1316.5" fill="#0000ff"/><polygon points="478.6,1292.0 492.4,1315.9 464.8,1315.9" fill="#fff"/><ellipse cx="478.6" cy="1308.1" rx="4.8" ry="3.8" fill="#0000ff"/>
<polygon points="480.8,1282.3 486.8,1282.3 506.4,1316.3 506.4,1321.7 461.2,1321.7 461.2,1316.3" fill="#0000ff"/><polygon points="483.8,1291.8 497.6,1315.7 470.0,1315.7" fill="#fff"/><ellipse cx="483.8" cy="1307.9" rx="4.8" ry="3.8" fill="#0000ff"/>
<polygon points="486.1,1282.0 492.1,1282.0 511.8,1316.0 511.8,1321.4 466.5,1321.4 466.5,1316.0" fill="#0000ff"/><polygon points="489.1,1291.5 502.9,1315.4 475.3,1315.4" fill="#fff"/><ellipse cx="489.1" cy="1307.6" rx="4.8" ry="3.8" fill="#0000ff"/>
<polygon points="491.3,1281.7 497.3,1281.7 517.0,1315.7 517.0,1321.1 471.7,1321.1 471.7,1315.7" fill="#0000ff"/><polygon points="494.3,1291.2 508.1,1315.1 480.5,1315.1" fill="#fff"/><ellipse cx="494.3" cy="1307.3" rx="4.8" ry="3.8" fill="#0000ff"/>
<polygon points="500.2,1281.3 506.2,1281.3 525.9,1315.3 525.9,1320.7 480.6,1320.7 480.6,1315.3" fill="#0000ff"/><polygon points="503.2,1290.8 517.0,1314.7 489.4,1314.7" fill="#fff"/><ellipse cx="503.2" cy="1306.9" rx="4.8" ry="3.8" fill="#0000ff"/>
<polygon points="527.3,1278.6 533.3,1278.6 552.9,1312.6 552.9,1318.0 507.6,1318.0 507.6,1312.6" fill="#0000ff"/><polygon points="530.3,1288.1 544.1,1312.0 516.5,1312.0" fill="#fff"/><ellipse cx="530.3" cy="1304.2" rx="4.8" ry="3.8" fill="#0000ff"/>
<polygon points="553.4,1275.5 559.4,1275.5 579.0,1309.5 579.0,1314.9 533.8,1314.9 533.8,1309.5" fill="#0000ff"/><polygon points="556.4,1285.0 570.2,1308.9 542.6,1308.9" fill="#fff"/><ellipse cx="556.4" cy="1301.1" rx="4.8" ry="3.8" fill="#0000ff"/>
<polygon points="579.0,1274.3 585.0,1274.3 604.6,1308.3 604.6,1313.7 559.4,1313.7 559.4,1308.3" fill="#0000ff"/><polygon points="582.0,1283.8 595.8,1307.7 568.2,1307.7" fill="#fff"/><ellipse cx="582.0" cy="1299.9" rx="4.8" ry="3.8" fill="#0000ff"/>
<polygon points="605.7,1271.6 611.7,1271.6 631.4,1305.6 631.4,1311.0 586.1,1311.0 586.1,1305.6" fill="#0000ff"/><polygon points="608.7,1281.1 622.5,1305.0 594.9,1305.0" fill="#fff"/><ellipse cx="608.7" cy="1297.2" rx="4.8" ry="3.8" fill="#0000ff"/>
<polygon points="632.3,1269.9 638.3,1269.9 657.9,1303.9 657.9,1309.3 612.6,1309.3 612.6,1303.9" fill="#0000ff"/><polygon points="635.3,1279.4 649.1,1303.3 621.5,1303.3" fill="#fff"/><ellipse cx="635.3" cy="1295.5" rx="4.8" ry="3.8" fill="#0000ff"/>
<polygon points="658.4,1268.3 664.4,1268.3 684.0,1302.3 684.0,1307.7 638.8,1307.7 638.8,1302.3" fill="#0000ff"/><polygon points="661.4,1277.8 675.2,1301.7 647.6,1301.7" fill="#fff"/><ellipse cx="661.4" cy="1293.9" rx="4.8" ry="3.8" fill="#0000ff"/>
<polygon points="684.5,1266.6 690.5,1266.6 710.1,1300.6 710.1,1306.0 664.9,1306.0 664.9,1300.6" fill="#0000ff"/><polygon points="687.5,1276.1 701.3,1300.0 673.7,1300.0" fill="#fff"/><ellipse cx="687.5" cy="1292.2" rx="4.8" ry="3.8" fill="#0000ff"/>
<polygon points="710.7,1264.6 716.7,1264.6 736.4,1298.6 736.4,1304.0 691.1,1304.0 691.1,1298.6" fill="#0000ff"/><polygon points="713.7,1274.1 727.5,1298.0 699.9,1298.0" fill="#fff"/><ellipse cx="713.7" cy="1290.2" rx="4.8" ry="3.8" fill="#0000ff"/>
<polygon points="736.8,1262.6 742.8,1262.6 762.4,1296.6 762.4,1302.0 717.1,1302.0 717.1,1296.6" fill="#0000ff"/><polygon points="739.8,1272.1 753.6,1296.0 726.0,1296.0" fill="#fff"/><ellipse cx="739.8" cy="1288.2" rx="4.8" ry="3.8" fill="#0000ff"/>
<polygon points="762.9,1260.6 768.9,1260.6 788.5,1294.6 788.5,1300.0 743.2,1300.0 743.2,1294.6" fill="#0000ff"/><polygon points="765.9,1270.1 779.7,1294.0 752.1,1294.0" fill="#fff"/><ellipse cx="765.9" cy="1286.2" rx="4.8" ry="3.8" fill="#0000ff"/>
<polygon points="789.0,1258.8 795.0,1258.8 814.6,1292.8 814.6,1298.2 769.4,1298.2 769.4,1292.8" fill="#0000ff"/><polygon points="792.0,1268.3 805.8,1292.2 778.2,1292.2" fill="#fff"/><ellipse cx="792.0" cy="1284.4" rx="4.8" ry="3.8" fill="#0000ff"/>
<polygon points="815.1,1257.0 821.1,1257.0 840.8,1291.0 840.8,1296.4 795.5,1296.4 795.5,1291.0" fill="#0000ff"/><polygon points="818.1,1266.5 831.9,1290.4 804.3,1290.4" fill="#fff"/><ellipse cx="818.1" cy="1282.6" rx="4.8" ry="3.8" fill="#0000ff"/>
<polygon points="841.2,1255.0 847.2,1255.0 866.9,1289.0 866.9,1294.4 821.6,1294.4 821.6,1289.0" fill="#0000ff"/><polygon points="844.2,1264.5 858.0,1288.4 830.4,1288.4" fill="#fff"/><ellipse cx="844.2" cy="1280.6" rx="4.8" ry="3.8" fill="#0000ff"/>
<polygon points="874.2,1251.9 880.2,1251.9 899.9,1285.9 899.9,1291.3 854.6,1291.3 854.6,1285.9" fill="#0000ff"/><polygon points="877.2,1261.4 891.0,1285.3 863.4,1285.3" fill="#fff"/><ellipse cx="877.2" cy="1277.5" rx="4.8" ry="3.8" fill="#0000ff"/>
<polygon points="900.3,1248.2 906.3,1248.2 925.9,1282.2 925.9,1287.6 880.6,1287.6 880.6,1282.2" fill="#0000ff"/><polygon points="903.3,1257.7 917.1,1281.6 889.5,1281.6" fill="#fff"/><ellipse cx="903.3" cy="1273.8" rx="4.8" ry="3.8" fill="#0000ff"/>
<polygon points="926.4,1246.4 932.4,1246.4 952.0,1280.4 952.0,1285.8 906.8,1285.8 906.8,1280.4" fill="#0000ff"/><polygon points="929.4,1255.9 943.2,1279.8 915.6,1279.8" fill="#fff"/><ellipse cx="929.4" cy="1272.0" rx="4.8" ry="3.8" fill="#0000ff"/>
<polygon points="953.0,1242.8 959.0,1242.8 978.6,1276.8 978.6,1282.2 933.4,1282.2 933.4,1276.8" fill="#0000ff"/><polygon points="956.0,1252.3 969.8,1276.2 942.2,1276.2" fill="#fff"/><ellipse cx="956.0" cy="1268.4" rx="4.8" ry="3.8" fill="#0000ff"/>
<polygon points="979.7,1239.4 985.7,1239.4 1005.4,1273.4 1005.4,1278.8 960.1,1278.8 960.1,1273.4" fill="#0000ff"/><polygon points="982.7,1248.9 996.5,1272.8 968.9,1272.8" fill="#fff"/><ellipse cx="982.7" cy="1265.0" rx="4.8" ry="3.8" fill="#0000ff"/>
<polygon points="1005.3,1235.2 1011.3,1235.2 1031.0,1269.2 1031.0,1274.6 985.6,1274.6 985.6,1269.2" fill="#0000ff"/><polygon points="1008.3,1244.7 1022.1,1268.6 994.5,1268.6" fill="#fff"/><ellipse cx="1008.3" cy="1260.8" rx="4.8" ry="3.8" fill="#0000ff"/>
<polygon points="1030.3,1229.1 1036.3,1229.1 1056.0,1263.1 1056.0,1268.5 1010.6,1268.5 1010.6,1263.1" fill="#0000ff"/><polygon points="1033.3,1238.6 1047.1,1262.5 1019.5,1262.5" fill="#fff"/><ellipse cx="1033.3" cy="1254.7" rx="4.8" ry="3.8" fill="#0000ff"/>
<polygon points="1055.9,1223.1 1061.9,1223.1 1081.6,1257.1 1081.6,1262.5 1036.2,1262.5 1036.2,1257.1" fill="#0000ff"/><polygon points="1058.9,1232.6 1072.7,1256.5 1045.1,1256.5" fill="#fff"/><ellipse cx="1058.9" cy="1248.7" rx="4.8" ry="3.8" fill="#0000ff"/>
<polygon points="1081.5,1215.5 1087.5,1215.5 1107.2,1249.5 1107.2,1254.9 1061.8,1254.9 1061.8,1249.5" fill="#0000ff"/><polygon points="1084.5,1225.0 1098.3,1248.9 1070.7,1248.9" fill="#fff"/><ellipse cx="1084.5" cy="1241.1" rx="4.8" ry="3.8" fill="#0000ff"/>
<polygon points="1107.1,1205.2 1113.1,1205.2 1132.8,1239.2 1132.8,1244.6 1087.4,1244.6 1087.4,1239.2" fill="#0000ff"/><polygon points="1110.1,1214.7 1123.9,1238.6 1096.3,1238.6" fill="#fff"/><ellipse cx="1110.1" cy="1230.8" rx="4.8" ry="3.8" fill="#0000ff"/>
<polygon points="1133.2,1198.8 1139.2,1198.8 1158.9,1232.8 1158.9,1238.2 1113.5,1238.2 1113.5,1232.8" fill="#0000ff"/><polygon points="1136.2,1208.3 1150.0,1232.2 1122.4,1232.2" fill="#fff"/><ellipse cx="1136.2" cy="1224.4" rx="4.8" ry="3.8" fill="#0000ff"/>
<polygon points="1163.0,1189.7 1169.0,1189.7 1188.7,1223.7 1188.7,1229.1 1143.3,1229.1 1143.3,1223.7" fill="#0000ff"/><polygon points="1166.0,1199.2 1179.8,1223.1 1152.2,1223.1" fill="#fff"/><ellipse cx="1166.0" cy="1215.3" rx="4.8" ry="3.8" fill="#0000ff"/>
<polygon points="1190.7,1171.5 1196.7,1171.5 1216.4,1205.5 1216.4,1210.9 1171.0,1210.9 1171.0,1205.5" fill="#0000ff"/><polygon points="1193.7,1181.0 1207.5,1204.9 1179.9,1204.9" fill="#fff"/><ellipse cx="1193.7" cy="1197.1" rx="4.8" ry="3.8" fill="#0000ff"/>
<polygon points="1218.2,1146.9 1224.2,1146.9 1243.9,1180.9 1243.9,1186.3 1198.5,1186.3 1198.5,1180.9" fill="#0000ff"/><polygon points="1221.2,1156.4 1235.0,1180.3 1207.4,1180.3" fill="#fff"/><ellipse cx="1221.2" cy="1172.5" rx="4.8" ry="3.8" fill="#0000ff"/>
<polygon points="1242.6,1127.9 1248.6,1127.9 1268.2,1161.9 1268.2,1167.3 1222.9,1167.3 1222.9,1161.9" fill="#0000ff"/><polygon points="1245.6,1137.4 1259.4,1161.3 1231.8,1161.3" fill="#fff"/><ellipse cx="1245.6" cy="1153.5" rx="4.8" ry="3.8" fill="#0000ff"/>
<polygon points="1271.1,1104.2 1277.1,1104.2 1296.8,1138.2 1296.8,1143.6 1251.4,1143.6 1251.4,1138.2" fill="#0000ff"/><polygon points="1274.1,1113.7 1287.9,1137.6 1260.3,1137.6" fill="#fff"/><ellipse cx="1274.1" cy="1129.8" rx="4.8" ry="3.8" fill="#0000ff"/>
<polygon points="1295.4,1078.1 1301.4,1078.1 1321.1,1112.1 1321.1,1117.5 1275.8,1117.5 1275.8,1112.1" fill="#0000ff"/><polygon points="1298.4,1087.6 1312.2,1111.5 1284.6,1111.5" fill="#fff"/><ellipse cx="1298.4" cy="1103.7" rx="4.8" ry="3.8" fill="#0000ff"/>
<polygon points="1323.3,1041.9 1329.3,1041.9 1349.0,1075.9 1349.0,1081.3 1303.6,1081.3 1303.6,1075.9" fill="#0000ff"/><polygon points="1326.3,1051.4 1340.1,1075.3 1312.5,1075.3" fill="#fff"/><ellipse cx="1326.3" cy="1067.5" rx="4.8" ry="3.8" fill="#0000ff"/>
<polygon points="1348.0,993.5 1354.0,993.5 1373.7,1027.5 1373.7,1032.9 1328.3,1032.9 1328.3,1027.5" fill="#0000ff"/><polygon points="1351.0,1003.0 1364.8,1026.9 1337.2,1026.9" fill="#fff"/><ellipse cx="1351.0" cy="1019.1" rx="4.8" ry="3.8" fill="#0000ff"/>
<polygon points="1375.0,920.2 1381.0,920.2 1400.7,954.2 1400.7,959.6 1355.3,959.6 1355.3,954.2" fill="#0000ff"/><polygon points="1378.0,929.7 1391.8,953.6 1364.2,953.6" fill="#fff"/><ellipse cx="1378.0" cy="945.8" rx="4.8" ry="3.8" fill="#0000ff"/>
<polygon points="1399.9,836.5 1405.9,836.5 1425.6,870.5 1425.6,875.9 1380.2,875.9 1380.2,870.5" fill="#0000ff"/><polygon points="1402.9,846.0 1416.7,869.9 1389.1,869.9" fill="#fff"/><ellipse cx="1402.9" cy="862.1" rx="4.8" ry="3.8" fill="#0000ff"/>
<polygon points="1427.8,748.0 1433.8,748.0 1453.5,782.0 1453.5,787.4 1408.1,787.4 1408.1,782.0" fill="#0000ff"/><polygon points="1430.8,757.5 1444.6,781.4 1417.0,781.4" fill="#fff"/><ellipse cx="1430.8" cy="773.6" rx="4.8" ry="3.8" fill="#0000ff"/>
<polygon points="1452.5,674.2 1458.5,674.2 1478.2,708.2 1478.2,713.6 1432.8,713.6 1432.8,708.2" fill="#0000ff"/><polygon points="1455.5,683.7 1469.3,707.6 1441.7,707.6" fill="#fff"/><ellipse cx="1455.5" cy="699.8" rx="4.8" ry="3.8" fill="#0000ff"/>
<polygon points="1480.0,609.6 1486.0,609.6 1505.7,643.6 1505.7,649.0 1460.3,649.0 1460.3,643.6" fill="#0000ff"/><polygon points="1483.0,619.1 1496.8,643.0 1469.2,643.0" fill="#fff"/><ellipse cx="1483.0" cy="635.2" rx="4.8" ry="3.8" fill="#0000ff"/>
<polygon points="1504.8,557.7 1510.8,557.7 1530.5,591.7 1530.5,597.1 1485.1,597.1 1485.1,591.7" fill="#0000ff"/><polygon points="1507.8,567.2 1521.6,591.1 1494.0,591.1" fill="#fff"/><ellipse cx="1507.8" cy="583.3" rx="4.8" ry="3.8" fill="#0000ff"/>
<polygon points="1532.1,509.7 1538.1,509.7 1557.8,543.7 1557.8,549.1 1512.4,549.1 1512.4,543.7" fill="#0000ff"/><polygon points="1535.1,519.2 1548.9,543.1 1521.3,543.1" fill="#fff"/><ellipse cx="1535.1" cy="535.3" rx="4.8" ry="3.8" fill="#0000ff"/>
<polygon points="1556.7,474.7 1562.7,474.7 1582.4,508.7 1582.4,514.1 1537.0,514.1 1537.0,508.7" fill="#0000ff"/><polygon points="1559.7,484.2 1573.5,508.1 1545.9,508.1" fill="#fff"/><ellipse cx="1559.7" cy="500.3" rx="4.8" ry="3.8" fill="#0000ff"/>
<polygon points="1585.6,440.0 1591.6,440.0 1611.2,474.0 1611.2,479.4 1565.9,479.4 1565.9,474.0" fill="#0000ff"/><polygon points="1588.6,449.5 1602.4,473.4 1574.8,473.4" fill="#fff"/><ellipse cx="1588.6" cy="465.6" rx="4.8" ry="3.8" fill="#0000ff"/>
<polygon points="1610.2,417.2 1616.2,417.2 1635.9,451.2 1635.9,456.6 1590.5,456.6 1590.5,451.2" fill="#0000ff"/><polygon points="1613.2,426.7 1627.0,450.6 1599.4,450.6" fill="#fff"/><ellipse cx="1613.2" cy="442.8" rx="4.8" ry="3.8" fill="#0000ff"/>
<polygon points="1636.0,395.6 1642.0,395.6 1661.7,429.6 1661.7,435.0 1616.3,435.0 1616.3,429.6" fill="#0000ff"/><polygon points="1639.0,405.1 1652.8,429.0 1625.2,429.0" fill="#fff"/><ellipse cx="1639.0" cy="421.2" rx="4.8" ry="3.8" fill="#0000ff"/>
<polygon points="1661.7,380.7 1667.7,380.7 1687.4,414.7 1687.4,420.1 1642.0,420.1 1642.0,414.7" fill="#0000ff"/><polygon points="1664.7,390.2 1678.5,414.1 1650.9,414.1" fill="#fff"/><ellipse cx="1664.7" cy="406.3" rx="4.8" ry="3.8" fill="#0000ff"/>
<polygon points="1687.8,364.7 1693.8,364.7 1713.5,398.7 1713.5,404.1 1668.1,404.1 1668.1,398.7" fill="#0000ff"/><polygon points="1690.8,374.2 1704.6,398.1 1677.0,398.1" fill="#fff"/><ellipse cx="1690.8" cy="390.3" rx="4.8" ry="3.8" fill="#0000ff"/>
<polygon points="1713.2,351.1 1719.2,351.1 1738.9,385.1 1738.9,390.5 1693.5,390.5 1693.5,385.1" fill="#0000ff"/><polygon points="1716.2,360.6 1730.0,384.5 1702.4,384.5" fill="#fff"/><ellipse cx="1716.2" cy="376.7" rx="4.8" ry="3.8" fill="#0000ff"/>
<polygon points="1739.2,337.6 1745.2,337.6 1764.9,371.6 1764.9,377.0 1719.5,377.0 1719.5,371.6" fill="#0000ff"/><polygon points="1742.2,347.1 1756.0,371.0 1728.4,371.0" fill="#fff"/><ellipse cx="1742.2" cy="363.2" rx="4.8" ry="3.8" fill="#0000ff"/>
<polygon points="1764.9,325.2 1770.9,325.2 1790.6,359.2 1790.6,364.6 1745.2,364.6 1745.2,359.2" fill="#0000ff"/><polygon points="1767.9,334.7 1781.7,358.6 1754.1,358.6" fill="#fff"/><ellipse cx="1767.9" cy="350.8" rx="4.8" ry="3.8" fill="#0000ff"/>
<polygon points="1791.2,313.0 1797.2,313.0 1816.9,347.0 1816.9,352.4 1771.5,352.4 1771.5,347.0" fill="#0000ff"/><polygon points="1794.2,322.5 1808.0,346.4 1780.4,346.4" fill="#fff"/><ellipse cx="1794.2" cy="338.6" rx="4.8" ry="3.8" fill="#0000ff"/>
<polygon points="1815.7,301.5 1821.7,301.5 1841.4,335.5 1841.4,340.9 1796.0,340.9 1796.0,335.5" fill="#0000ff"/><polygon points="1818.7,311.0 1832.5,334.9 1804.9,334.9" fill="#fff"/><ellipse cx="1818.7" cy="327.1" rx="4.8" ry="3.8" fill="#0000ff"/>
<polygon points="1842.0,291.3 1848.0,291.3 1867.7,325.3 1867.7,330.7 1822.3,330.7 1822.3,325.3" fill="#0000ff"/><polygon points="1845.0,300.8 1858.8,324.7 1831.2,324.7" fill="#fff"/><ellipse cx="1845.0" cy="316.9" rx="4.8" ry="3.8" fill="#0000ff"/>
<polygon points="1867.4,281.7 1873.4,281.7 1893.1,315.7 1893.1,321.1 1847.8,321.1 1847.8,315.7" fill="#0000ff"/><polygon points="1870.4,291.2 1884.2,315.1 1856.6,315.1" fill="#fff"/><ellipse cx="1870.4" cy="307.3" rx="4.8" ry="3.8" fill="#0000ff"/>
<polygon points="1893.6,271.8 1899.6,271.8 1919.2,305.8 1919.2,311.2 1873.9,311.2 1873.9,305.8" fill="#0000ff"/><polygon points="1896.6,281.3 1910.4,305.2 1882.8,305.2" fill="#fff"/><ellipse cx="1896.6" cy="297.4" rx="4.8" ry="3.8" fill="#0000ff"/>
<polygon points="1918.8,261.3 1924.8,261.3 1944.5,295.3 1944.5,300.7 1899.1,300.7 1899.1,295.3" fill="#0000ff"/><polygon points="1921.8,270.8 1935.6,294.7 1908.0,294.7" fill="#fff"/><ellipse cx="1921.8" cy="286.9" rx="4.8" ry="3.8" fill="#0000ff"/>
<polygon points="1944.1,253.3 1950.1,253.3 1969.8,287.3 1969.8,292.7 1924.4,292.7 1924.4,287.3" fill="#0000ff"/><polygon points="1947.1,262.8 1960.9,286.7 1933.3,286.7" fill="#fff"/><ellipse cx="1947.1" cy="278.9" rx="4.8" ry="3.8" fill="#0000ff"/>
<polygon points="1961.1,247.2 1967.1,247.2 1986.8,281.2 1986.8,286.6 1941.4,286.6 1941.4,281.2" fill="#0000ff"/><polygon points="1964.1,256.7 1977.9,280.6 1950.3,280.6" fill="#fff"/><ellipse cx="1964.1" cy="272.8" rx="4.8" ry="3.8" fill="#0000ff"/>
<polygon points="1980.3,241.2 1986.3,241.2 2006.0,275.2 2006.0,280.6 1960.6,280.6 1960.6,275.2" fill="#0000ff"/><polygon points="1983.3,250.7 1997.1,274.6 1969.5,274.6" fill="#fff"/><ellipse cx="1983.3" cy="266.8" rx="4.8" ry="3.8" fill="#0000ff"/>
<polygon points="1994.4,233.1 2000.4,233.1 2020.1,267.1 2020.1,272.5 1974.8,272.5 1974.8,267.1" fill="#0000ff"/><polygon points="1997.4,242.6 2011.2,266.5 1983.6,266.5" fill="#fff"/><ellipse cx="1997.4" cy="258.7" rx="4.8" ry="3.8" fill="#0000ff"/>
<polygon points="372.1,1318.7 366.1,1318.7 346.5,1284.7 346.5,1279.3 391.8,1279.3 391.8,1284.7" fill="#008080"/><polygon points="369.1,1309.2 355.3,1285.3 382.9,1285.3" fill="#fff"/><ellipse cx="369.1" cy="1293.1" rx="4.8" ry="3.8" fill="#008080"/>
<polygon points="397.6,1311.4 391.6,1311.4 372.0,1277.4 372.0,1272.0 417.2,1272.0 417.2,1277.4" fill="#008080"/><polygon points="394.6,1301.9 380.8,1278.0 408.4,1278.0" fill="#fff"/><ellipse cx="394.6" cy="1285.8" rx="4.8" ry="3.8" fill="#008080"/>
<polygon points="423.7,1307.9 417.7,1307.9 398.1,1273.9 398.1,1268.5 443.3,1268.5 443.3,1273.9" fill="#008080"/><polygon points="420.7,1298.4 406.9,1274.5 434.5,1274.5" fill="#fff"/><ellipse cx="420.7" cy="1282.3" rx="4.8" ry="3.8" fill="#008080"/>
<polygon points="450.4,1305.9 444.4,1305.9 424.8,1271.9 424.8,1266.5 470.0,1266.5 470.0,1271.9" fill="#008080"/><polygon points="447.4,1296.4 433.6,1272.5 461.2,1272.5" fill="#fff"/><ellipse cx="447.4" cy="1280.3" rx="4.8" ry="3.8" fill="#008080"/>
<polygon points="476.5,1304.5 470.5,1304.5 450.9,1270.5 450.9,1265.1 496.1,1265.1 496.1,1270.5" fill="#008080"/><polygon points="473.5,1295.0 459.7,1271.1 487.3,1271.1" fill="#fff"/><ellipse cx="473.5" cy="1278.9" rx="4.8" ry="3.8" fill="#008080"/>
<polygon points="502.6,1303.4 496.6,1303.4 477.0,1269.4 477.0,1264.0 522.2,1264.0 522.2,1269.4" fill="#008080"/><polygon points="499.6,1293.9 485.8,1270.0 513.4,1270.0" fill="#fff"/><ellipse cx="499.6" cy="1277.8" rx="4.8" ry="3.8" fill="#008080"/>
<polygon points="528.7,1302.4 522.7,1302.4 503.1,1268.4 503.1,1263.0 548.4,1263.0 548.4,1268.4" fill="#008080"/><polygon points="525.7,1292.9 511.9,1269.0 539.5,1269.0" fill="#fff"/><ellipse cx="525.7" cy="1276.8" rx="4.8" ry="3.8" fill="#008080"/>
<polygon points="554.8,1301.1 548.8,1301.1 529.1,1267.1 529.1,1261.7 574.4,1261.7 574.4,1267.1" fill="#008080"/><polygon points="551.8,1291.6 538.0,1267.7 565.6,1267.7" fill="#fff"/><ellipse cx="551.8" cy="1275.5" rx="4.8" ry="3.8" fill="#008080"/>
<polygon points="580.3,1300.1 574.3,1300.1 554.6,1266.1 554.6,1260.7 599.9,1260.7 599.9,1266.1" fill="#008080"/><polygon points="577.3,1290.6 563.5,1266.7 591.1,1266.7" fill="#fff"/><ellipse cx="577.3" cy="1274.5" rx="4.8" ry="3.8" fill="#008080"/>
<polygon points="606.4,1299.0 600.4,1299.0 580.8,1265.0 580.8,1259.6 626.0,1259.6 626.0,1265.0" fill="#008080"/><polygon points="603.4,1289.5 589.6,1265.6 617.2,1265.6" fill="#fff"/><ellipse cx="603.4" cy="1273.4" rx="4.8" ry="3.8" fill="#008080"/>
<polygon points="633.1,1299.4 627.1,1299.4 607.5,1265.4 607.5,1260.0 652.8,1260.0 652.8,1265.4" fill="#008080"/><polygon points="630.1,1289.9 616.3,1266.0 643.9,1266.0" fill="#fff"/><ellipse cx="630.1" cy="1273.8" rx="4.8" ry="3.8" fill="#008080"/>
<polygon points="658.7,1298.5 652.7,1298.5 633.1,1264.5 633.1,1259.1 678.4,1259.1 678.4,1264.5" fill="#008080"/><polygon points="655.7,1289.0 641.9,1265.1 669.5,1265.1" fill="#fff"/><ellipse cx="655.7" cy="1272.9" rx="4.8" ry="3.8" fill="#008080"/>
<polygon points="684.4,1297.6 678.4,1297.6 658.8,1263.6 658.8,1258.2 704.0,1258.2 704.0,1263.6" fill="#008080"/><polygon points="681.4,1288.1 667.6,1264.2 695.2,1264.2" fill="#fff"/><ellipse cx="681.4" cy="1272.0" rx="4.8" ry="3.8" fill="#008080"/>
<polygon points="710.0,1297.6 704.0,1297.6 684.4,1263.6 684.4,1258.2 729.6,1258.2 729.6,1263.6" fill="#008080"/><polygon points="707.0,1288.1 693.2,1264.2 720.8,1264.2" fill="#fff"/><ellipse cx="707.0" cy="1272.0" rx="4.8" ry="3.8" fill="#008080"/>
<polygon points="735.6,1296.6 729.6,1296.6 710.0,1262.6 710.0,1257.2 755.2,1257.2 755.2,1262.6" fill="#008080"/><polygon points="732.6,1287.1 718.8,1263.2 746.4,1263.2" fill="#fff"/><ellipse cx="732.6" cy="1271.0" rx="4.8" ry="3.8" fill="#008080"/>
<polygon points="762.2,1296.6 756.2,1296.6 736.6,1262.6 736.6,1257.2 781.9,1257.2 781.9,1262.6" fill="#008080"/><polygon points="759.2,1287.1 745.4,1263.2 773.0,1263.2" fill="#fff"/><ellipse cx="759.2" cy="1271.0" rx="4.8" ry="3.8" fill="#008080"/>
<polygon points="787.8,1295.7 781.8,1295.7 762.1,1261.7 762.1,1256.3 807.4,1256.3 807.4,1261.7" fill="#008080"/><polygon points="784.8,1286.2 771.0,1262.3 798.6,1262.3" fill="#fff"/><ellipse cx="784.8" cy="1270.1" rx="4.8" ry="3.8" fill="#008080"/>
<polygon points="814.4,1295.7 808.4,1295.7 788.8,1261.7 788.8,1256.3 834.0,1256.3 834.0,1261.7" fill="#008080"/><polygon points="811.4,1286.2 797.6,1262.3 825.2,1262.3" fill="#fff"/><ellipse cx="811.4" cy="1270.1" rx="4.8" ry="3.8" fill="#008080"/>
<polygon points="841.0,1294.8 835.0,1294.8 815.4,1260.8 815.4,1255.4 860.6,1255.4 860.6,1260.8" fill="#008080"/><polygon points="838.0,1285.3 824.2,1261.4 851.8,1261.4" fill="#fff"/><ellipse cx="838.0" cy="1269.2" rx="4.8" ry="3.8" fill="#008080"/>
<polygon points="866.6,1294.8 860.6,1294.8 841.0,1260.8 841.0,1255.4 886.2,1255.4 886.2,1260.8" fill="#008080"/><polygon points="863.6,1285.3 849.8,1261.4 877.4,1261.4" fill="#fff"/><ellipse cx="863.6" cy="1269.2" rx="4.8" ry="3.8" fill="#008080"/>
<polygon points="893.1,1294.8 887.1,1294.8 867.5,1260.8 867.5,1255.4 912.8,1255.4 912.8,1260.8" fill="#008080"/><polygon points="890.1,1285.3 876.3,1261.4 903.9,1261.4" fill="#fff"/><ellipse cx="890.1" cy="1269.2" rx="4.8" ry="3.8" fill="#008080"/>
<polygon points="918.8,1293.3 912.8,1293.3 893.1,1259.3 893.1,1253.9 938.4,1253.9 938.4,1259.3" fill="#008080"/><polygon points="915.8,1283.8 902.0,1259.9 929.6,1259.9" fill="#fff"/><ellipse cx="915.8" cy="1267.7" rx="4.8" ry="3.8" fill="#008080"/>
<polygon points="945.3,1293.3 939.3,1293.3 919.6,1259.3 919.6,1253.9 964.9,1253.9 964.9,1259.3" fill="#008080"/><polygon points="942.3,1283.8 928.5,1259.9 956.1,1259.9" fill="#fff"/><ellipse cx="942.3" cy="1267.7" rx="4.8" ry="3.8" fill="#008080"/>
<polygon points="971.9,1293.0 965.9,1293.0 946.2,1259.0 946.2,1253.6 991.5,1253.6 991.5,1259.0" fill="#008080"/><polygon points="968.9,1283.5 955.1,1259.6 982.7,1259.6" fill="#fff"/><ellipse cx="968.9" cy="1267.4" rx="4.8" ry="3.8" fill="#008080"/>
<polygon points="997.5,1292.0 991.5,1292.0 971.9,1258.0 971.9,1252.6 1017.1,1252.6 1017.1,1258.0" fill="#008080"/><polygon points="994.5,1282.5 980.7,1258.6 1008.3,1258.6" fill="#fff"/><ellipse cx="994.5" cy="1266.4" rx="4.8" ry="3.8" fill="#008080"/>
<polygon points="1023.6,1291.9 1017.6,1291.9 998.0,1257.9 998.0,1252.5 1043.2,1252.5 1043.2,1257.9" fill="#008080"/><polygon points="1020.6,1282.4 1006.8,1258.5 1034.4,1258.5" fill="#fff"/><ellipse cx="1020.6" cy="1266.3" rx="4.8" ry="3.8" fill="#008080"/>
<polygon points="1049.9,1290.8 1043.9,1290.8 1024.2,1256.8 1024.2,1251.4 1069.6,1251.4 1069.6,1256.8" fill="#008080"/><polygon points="1046.9,1281.3 1033.1,1257.4 1060.7,1257.4" fill="#fff"/><ellipse cx="1046.9" cy="1265.2" rx="4.8" ry="3.8" fill="#008080"/>
<polygon points="1076.3,1290.8 1070.3,1290.8 1050.6,1256.8 1050.6,1251.4 1096.0,1251.4 1096.0,1256.8" fill="#008080"/><polygon points="1073.3,1281.3 1059.5,1257.4 1087.1,1257.4" fill="#fff"/><ellipse cx="1073.3" cy="1265.2" rx="4.8" ry="3.8" fill="#008080"/>
<polygon points="1102.6,1290.8 1096.6,1290.8 1076.9,1256.8 1076.9,1251.4 1122.2,1251.4 1122.2,1256.8" fill="#008080"/><polygon points="1099.6,1281.3 1085.8,1257.4 1113.4,1257.4" fill="#fff"/><ellipse cx="1099.6" cy="1265.2" rx="4.8" ry="3.8" fill="#008080"/>
<polygon points="1128.9,1289.7 1122.9,1289.7 1103.2,1255.7 1103.2,1250.3 1148.6,1250.3 1148.6,1255.7" fill="#008080"/><polygon points="1125.9,1280.2 1112.1,1256.3 1139.7,1256.3" fill="#fff"/><ellipse cx="1125.9" cy="1264.1" rx="4.8" ry="3.8" fill="#008080"/>
<polygon points="1154.1,1289.7 1148.1,1289.7 1128.4,1255.7 1128.4,1250.3 1173.8,1250.3 1173.8,1255.7" fill="#008080"/><polygon points="1151.1,1280.2 1137.3,1256.3 1164.9,1256.3" fill="#fff"/><ellipse cx="1151.1" cy="1264.1" rx="4.8" ry="3.8" fill="#008080"/>
<polygon points="1180.4,1288.5 1174.4,1288.5 1154.8,1254.5 1154.8,1249.1 1200.1,1249.1 1200.1,1254.5" fill="#008080"/><polygon points="1177.4,1279.0 1163.6,1255.1 1191.2,1255.1" fill="#fff"/><ellipse cx="1177.4" cy="1262.9" rx="4.8" ry="3.8" fill="#008080"/>
<polygon points="1206.8,1288.5 1200.8,1288.5 1181.1,1254.5 1181.1,1249.1 1226.5,1249.1 1226.5,1254.5" fill="#008080"/><polygon points="1203.8,1279.0 1190.0,1255.1 1217.6,1255.1" fill="#fff"/><ellipse cx="1203.8" cy="1262.9" rx="4.8" ry="3.8" fill="#008080"/>
<polygon points="1233.1,1287.4 1227.1,1287.4 1207.4,1253.4 1207.4,1248.0 1252.8,1248.0 1252.8,1253.4" fill="#008080"/><polygon points="1230.1,1277.9 1216.3,1254.0 1243.9,1254.0" fill="#fff"/><ellipse cx="1230.1" cy="1261.8" rx="4.8" ry="3.8" fill="#008080"/>
<polygon points="1259.4,1286.7 1253.4,1286.7 1233.8,1252.7 1233.8,1247.3 1279.1,1247.3 1279.1,1252.7" fill="#008080"/><polygon points="1256.4,1277.2 1242.6,1253.3 1270.2,1253.3" fill="#fff"/><ellipse cx="1256.4" cy="1261.1" rx="4.8" ry="3.8" fill="#008080"/>
<polygon points="1284.6,1285.8 1278.6,1285.8 1258.9,1251.8 1258.9,1246.4 1304.2,1246.4 1304.2,1251.8" fill="#008080"/><polygon points="1281.6,1276.3 1267.8,1252.4 1295.4,1252.4" fill="#fff"/><ellipse cx="1281.6" cy="1260.2" rx="4.8" ry="3.8" fill="#008080"/>
<polygon points="1310.9,1284.4 1304.9,1284.4 1285.2,1250.4 1285.2,1245.0 1330.6,1245.0 1330.6,1250.4" fill="#008080"/><polygon points="1307.9,1274.9 1294.1,1251.0 1321.7,1251.0" fill="#fff"/><ellipse cx="1307.9" cy="1258.8" rx="4.8" ry="3.8" fill="#008080"/>
<polygon points="1337.2,1282.8 1331.2,1282.8 1311.5,1248.8 1311.5,1243.4 1356.9,1243.4 1356.9,1248.8" fill="#008080"/><polygon points="1334.2,1273.3 1320.4,1249.4 1348.0,1249.4" fill="#fff"/><ellipse cx="1334.2" cy="1257.2" rx="4.8" ry="3.8" fill="#008080"/>
<polygon points="1363.6,1281.6 1357.6,1281.6 1337.9,1247.6 1337.9,1242.2 1383.2,1242.2 1383.2,1247.6" fill="#008080"/><polygon points="1360.6,1272.1 1346.8,1248.2 1374.4,1248.2" fill="#fff"/><ellipse cx="1360.6" cy="1256.0" rx="4.8" ry="3.8" fill="#008080"/>
<polygon points="1389.9,1280.5 1383.9,1280.5 1364.2,1246.5 1364.2,1241.1 1409.6,1241.1 1409.6,1246.5" fill="#008080"/><polygon points="1386.9,1271.0 1373.1,1247.1 1400.7,1247.1" fill="#fff"/><ellipse cx="1386.9" cy="1254.9" rx="4.8" ry="3.8" fill="#008080"/>
<polygon points="1415.1,1278.2 1409.1,1278.2 1389.4,1244.2 1389.4,1238.8 1434.8,1238.8 1434.8,1244.2" fill="#008080"/><polygon points="1412.1,1268.7 1398.3,1244.8 1425.9,1244.8" fill="#fff"/><ellipse cx="1412.1" cy="1252.6" rx="4.8" ry="3.8" fill="#008080"/>
<polygon points="1441.4,1275.9 1435.4,1275.9 1415.8,1241.9 1415.8,1236.5 1461.1,1236.5 1461.1,1241.9" fill="#008080"/><polygon points="1438.4,1266.4 1424.6,1242.5 1452.2,1242.5" fill="#fff"/><ellipse cx="1438.4" cy="1250.3" rx="4.8" ry="3.8" fill="#008080"/>
<polygon points="1467.7,1273.6 1461.7,1273.6 1442.0,1239.6 1442.0,1234.2 1487.4,1234.2 1487.4,1239.6" fill="#008080"/><polygon points="1464.7,1264.1 1450.9,1240.2 1478.5,1240.2" fill="#fff"/><ellipse cx="1464.7" cy="1248.0" rx="4.8" ry="3.8" fill="#008080"/>
<polygon points="1494.1,1271.3 1488.1,1271.3 1468.4,1237.3 1468.4,1231.9 1513.8,1231.9 1513.8,1237.3" fill="#008080"/><polygon points="1491.1,1261.8 1477.3,1237.9 1504.9,1237.9" fill="#fff"/><ellipse cx="1491.1" cy="1245.7" rx="4.8" ry="3.8" fill="#008080"/>
<polygon points="1520.0,1267.2 1514.0,1267.2 1494.3,1233.2 1494.3,1227.8 1539.7,1227.8 1539.7,1233.2" fill="#008080"/><polygon points="1517.0,1257.7 1503.2,1233.8 1530.8,1233.8" fill="#fff"/><ellipse cx="1517.0" cy="1241.6" rx="4.8" ry="3.8" fill="#008080"/>
<polygon points="1545.5,1263.4 1539.5,1263.4 1519.8,1229.4 1519.8,1224.0 1565.2,1224.0 1565.2,1229.4" fill="#008080"/><polygon points="1542.5,1253.9 1528.7,1230.0 1556.3,1230.0" fill="#fff"/><ellipse cx="1542.5" cy="1237.8" rx="4.8" ry="3.8" fill="#008080"/>
<polygon points="1571.8,1258.7 1565.8,1258.7 1546.1,1224.7 1546.1,1219.3 1591.5,1219.3 1591.5,1224.7" fill="#008080"/><polygon points="1568.8,1249.2 1555.0,1225.3 1582.6,1225.3" fill="#fff"/><ellipse cx="1568.8" cy="1233.1" rx="4.8" ry="3.8" fill="#008080"/>
<polygon points="1598.0,1254.1 1592.0,1254.1 1572.3,1220.1 1572.3,1214.7 1617.7,1214.7 1617.7,1220.1" fill="#008080"/><polygon points="1595.0,1244.6 1581.2,1220.7 1608.8,1220.7" fill="#fff"/><ellipse cx="1595.0" cy="1228.5" rx="4.8" ry="3.8" fill="#008080"/>
<polygon points="1624.3,1247.9 1618.3,1247.9 1598.6,1213.9 1598.6,1208.5 1644.0,1208.5 1644.0,1213.9" fill="#008080"/><polygon points="1621.3,1238.4 1607.5,1214.5 1635.1,1214.5" fill="#fff"/><ellipse cx="1621.3" cy="1222.3" rx="4.8" ry="3.8" fill="#008080"/>
<polygon points="1650.5,1241.0 1644.5,1241.0 1624.8,1207.0 1624.8,1201.6 1670.2,1201.6 1670.2,1207.0" fill="#008080"/><polygon points="1647.5,1231.5 1633.7,1207.6 1661.3,1207.6" fill="#fff"/><ellipse cx="1647.5" cy="1215.4" rx="4.8" ry="3.8" fill="#008080"/>
<polygon points="1676.0,1233.3 1670.0,1233.3 1650.3,1199.3 1650.3,1193.9 1695.7,1193.9 1695.7,1199.3" fill="#008080"/><polygon points="1673.0,1223.8 1659.2,1199.9 1686.8,1199.9" fill="#fff"/><ellipse cx="1673.0" cy="1207.7" rx="4.8" ry="3.8" fill="#008080"/>
<polygon points="1702.2,1226.3 1696.2,1226.3 1676.5,1192.3 1676.5,1186.9 1721.9,1186.9 1721.9,1192.3" fill="#008080"/><polygon points="1699.2,1216.8 1685.4,1192.9 1713.0,1192.9" fill="#fff"/><ellipse cx="1699.2" cy="1200.7" rx="4.8" ry="3.8" fill="#008080"/>
<polygon points="1728.5,1216.3 1722.5,1216.3 1702.8,1182.3 1702.8,1176.9 1748.2,1176.9 1748.2,1182.3" fill="#008080"/><polygon points="1725.5,1206.8 1711.7,1182.9 1739.3,1182.9" fill="#fff"/><ellipse cx="1725.5" cy="1190.7" rx="4.8" ry="3.8" fill="#008080"/>
<polygon points="1754.0,1204.7 1748.0,1204.7 1728.3,1170.7 1728.3,1165.3 1773.7,1165.3 1773.7,1170.7" fill="#008080"/><polygon points="1751.0,1195.2 1737.2,1171.3 1764.8,1171.3" fill="#fff"/><ellipse cx="1751.0" cy="1179.1" rx="4.8" ry="3.8" fill="#008080"/>
<polygon points="1780.7,1191.5 1774.7,1191.5 1755.0,1157.5 1755.0,1152.1 1800.4,1152.1 1800.4,1157.5" fill="#008080"/><polygon points="1777.7,1182.0 1763.9,1158.1 1791.5,1158.1" fill="#fff"/><ellipse cx="1777.7" cy="1165.9" rx="4.8" ry="3.8" fill="#008080"/>
<polygon points="1806.7,1177.0 1800.7,1177.0 1781.0,1143.0 1781.0,1137.6 1826.4,1137.6 1826.4,1143.0" fill="#008080"/><polygon points="1803.7,1167.5 1789.9,1143.6 1817.5,1143.6" fill="#fff"/><ellipse cx="1803.7" cy="1151.4" rx="4.8" ry="3.8" fill="#008080"/>
<polygon points="1832.6,1159.3 1826.6,1159.3 1806.9,1125.3 1806.9,1119.9 1852.2,1119.9 1852.2,1125.3" fill="#008080"/><polygon points="1829.6,1149.8 1815.8,1125.9 1843.4,1125.9" fill="#fff"/><ellipse cx="1829.6" cy="1133.7" rx="4.8" ry="3.8" fill="#008080"/>
<polygon points="1857.6,1140.6 1851.6,1140.6 1831.9,1106.6 1831.9,1101.2 1877.2,1101.2 1877.2,1106.6" fill="#008080"/><polygon points="1854.6,1131.1 1840.8,1107.2 1868.4,1107.2" fill="#fff"/><ellipse cx="1854.6" cy="1115.0" rx="4.8" ry="3.8" fill="#008080"/>
<polygon points="1884.6,1117.8 1878.6,1117.8 1858.9,1083.8 1858.9,1078.4 1904.2,1078.4 1904.2,1083.8" fill="#008080"/><polygon points="1881.6,1108.3 1867.8,1084.4 1895.4,1084.4" fill="#fff"/><ellipse cx="1881.6" cy="1092.2" rx="4.8" ry="3.8" fill="#008080"/>
<polygon points="1910.6,1094.9 1904.6,1094.9 1884.9,1060.9 1884.9,1055.5 1930.2,1055.5 1930.2,1060.9" fill="#008080"/><polygon points="1907.6,1085.4 1893.8,1061.5 1921.4,1061.5" fill="#fff"/><ellipse cx="1907.6" cy="1069.3" rx="4.8" ry="3.8" fill="#008080"/>
<polygon points="1935.5,1067.9 1929.5,1067.9 1909.8,1033.9 1909.8,1028.5 1955.2,1028.5 1955.2,1033.9" fill="#008080"/><polygon points="1932.5,1058.4 1918.7,1034.5 1946.3,1034.5" fill="#fff"/><ellipse cx="1932.5" cy="1042.3" rx="4.8" ry="3.8" fill="#008080"/>
<polygon points="1962.5,1036.7 1956.5,1036.7 1936.8,1002.7 1936.8,997.3 1982.2,997.3 1982.2,1002.7" fill="#008080"/><polygon points="1959.5,1027.2 1945.7,1003.3 1973.3,1003.3" fill="#fff"/><ellipse cx="1959.5" cy="1011.1" rx="4.8" ry="3.8" fill="#008080"/>
<polygon points="1988.5,988.9 1982.5,988.9 1962.8,954.9 1962.8,949.5 2008.2,949.5 2008.2,954.9" fill="#008080"/><polygon points="1985.5,979.4 1971.7,955.5 1999.3,955.5" fill="#fff"/><ellipse cx="1985.5" cy="963.3" rx="4.8" ry="3.8" fill="#008080"/>
<polygon points="2013.5,899.5 2007.5,899.5 1987.8,865.5 1987.8,860.1 2033.2,860.1 2033.2,865.5" fill="#008080"/><polygon points="2010.5,890.0 1996.7,866.1 2024.3,866.1" fill="#fff"/><ellipse cx="2010.5" cy="873.9" rx="4.8" ry="3.8" fill="#008080"/>
<polygon points="331.9,1275.0 331.9,1269.0 365.9,1249.3 371.3,1249.3 371.3,1294.7 365.9,1294.7" fill="#ff00ff"/><polygon points="341.4,1272.0 365.3,1258.2 365.3,1285.8" fill="#fff"/><ellipse cx="357.5" cy="1272.0" rx="4.8" ry="3.8" fill="#ff00ff"/>
<polygon points="340.3,1253.7 340.3,1247.7 374.3,1228.0 379.7,1228.0 379.7,1273.4 374.3,1273.4" fill="#ff00ff"/><polygon points="349.8,1250.7 373.7,1236.9 373.7,1264.5" fill="#fff"/><ellipse cx="365.9" cy="1250.7" rx="4.8" ry="3.8" fill="#ff00ff"/>
<polygon points="345.9,1248.0 345.9,1242.0 379.9,1222.3 385.3,1222.3 385.3,1267.7 379.9,1267.7" fill="#ff00ff"/><polygon points="355.4,1245.0 379.3,1231.2 379.3,1258.8" fill="#fff"/><ellipse cx="371.5" cy="1245.0" rx="4.8" ry="3.8" fill="#ff00ff"/>
<polygon points="351.2,1244.0 351.2,1238.0 385.2,1218.3 390.6,1218.3 390.6,1263.7 385.2,1263.7" fill="#ff00ff"/><polygon points="360.7,1241.0 384.6,1227.2 384.6,1254.8" fill="#fff"/><ellipse cx="376.8" cy="1241.0" rx="4.8" ry="3.8" fill="#ff00ff"/>
<polygon points="356.4,1241.0 356.4,1235.0 390.4,1215.3 395.8,1215.3 395.8,1260.7 390.4,1260.7" fill="#ff00ff"/><polygon points="365.9,1238.0 389.8,1224.2 389.8,1251.8" fill="#fff"/><ellipse cx="382.0" cy="1238.0" rx="4.8" ry="3.8" fill="#ff00ff"/>
<polygon points="361.6,1239.0 361.6,1233.0 395.6,1213.3 401.0,1213.3 401.0,1258.7 395.6,1258.7" fill="#ff00ff"/><polygon points="371.1,1236.0 395.0,1222.2 395.0,1249.8" fill="#fff"/><ellipse cx="387.2" cy="1236.0" rx="4.8" ry="3.8" fill="#ff00ff"/>
<polygon points="366.8,1237.5 366.8,1231.5 400.8,1211.8 406.2,1211.8 406.2,1257.2 400.8,1257.2" fill="#ff00ff"/><polygon points="376.3,1234.5 400.2,1220.7 400.2,1248.3" fill="#fff"/><ellipse cx="392.4" cy="1234.5" rx="4.8" ry="3.8" fill="#ff00ff"/>
<polygon points="372.0,1236.0 372.0,1230.0 406.0,1210.3 411.4,1210.3 411.4,1255.7 406.0,1255.7" fill="#ff00ff"/><polygon points="381.5,1233.0 405.4,1219.2 405.4,1246.8" fill="#fff"/><ellipse cx="397.6" cy="1233.0" rx="4.8" ry="3.8" fill="#ff00ff"/>
<polygon points="383.5,1233.5 383.5,1227.5 417.5,1207.8 422.9,1207.8 422.9,1253.2 417.5,1253.2" fill="#ff00ff"/><polygon points="393.0,1230.5 416.9,1216.7 416.9,1244.3" fill="#fff"/><ellipse cx="409.1" cy="1230.5" rx="4.8" ry="3.8" fill="#ff00ff"/>
<polygon points="403.4,1233.3 403.4,1227.3 437.4,1207.6 442.8,1207.6 442.8,1253.0 437.4,1253.0" fill="#ff00ff"/><polygon points="412.9,1230.3 436.8,1216.5 436.8,1244.1" fill="#fff"/><ellipse cx="429.0" cy="1230.3" rx="4.8" ry="3.8" fill="#ff00ff"/>
<polygon points="429.5,1233.0 429.5,1227.0 463.5,1207.3 468.9,1207.3 468.9,1252.7 463.5,1252.7" fill="#ff00ff"/><polygon points="439.0,1230.0 462.9,1216.2 462.9,1243.8" fill="#fff"/><ellipse cx="455.1" cy="1230.0" rx="4.8" ry="3.8" fill="#ff00ff"/>
<polygon points="455.6,1232.7 455.6,1226.7 489.6,1207.0 495.0,1207.0 495.0,1252.4 489.6,1252.4" fill="#ff00ff"/><polygon points="465.1,1229.7 489.0,1215.9 489.0,1243.5" fill="#fff"/><ellipse cx="481.2" cy="1229.7" rx="4.8" ry="3.8" fill="#ff00ff"/>
<polygon points="481.7,1232.5 481.7,1226.5 515.7,1206.8 521.1,1206.8 521.1,1252.2 515.7,1252.2" fill="#ff00ff"/><polygon points="491.2,1229.5 515.1,1215.7 515.1,1243.3" fill="#fff"/><ellipse cx="507.3" cy="1229.5" rx="4.8" ry="3.8" fill="#ff00ff"/>
<polygon points="507.9,1231.9 507.9,1225.9 541.9,1206.2 547.3,1206.2 547.3,1251.6 541.9,1251.6" fill="#ff00ff"/><polygon points="517.4,1228.9 541.3,1215.1 541.3,1242.7" fill="#fff"/><ellipse cx="533.5" cy="1228.9" rx="4.8" ry="3.8" fill="#ff00ff"/>
<polygon points="534.0,1230.4 534.0,1224.4 568.0,1204.8 573.4,1204.8 573.4,1250.1 568.0,1250.1" fill="#ff00ff"/><polygon points="543.5,1227.4 567.4,1213.6 567.4,1241.2" fill="#fff"/><ellipse cx="559.6" cy="1227.4" rx="4.8" ry="3.8" fill="#ff00ff"/>
<polygon points="560.1,1229.0 560.1,1223.0 594.1,1203.3 599.5,1203.3 599.5,1248.7 594.1,1248.7" fill="#ff00ff"/><polygon points="569.6,1226.0 593.5,1212.2 593.5,1239.8" fill="#fff"/><ellipse cx="585.7" cy="1226.0" rx="4.8" ry="3.8" fill="#ff00ff"/>
<polygon points="586.2,1227.9 586.2,1221.9 620.2,1202.2 625.6,1202.2 625.6,1247.6 620.2,1247.6" fill="#ff00ff"/><polygon points="595.7,1224.9 619.6,1211.1 619.6,1238.7" fill="#fff"/><ellipse cx="611.8" cy="1224.9" rx="4.8" ry="3.8" fill="#ff00ff"/>
<polygon points="612.3,1227.6 612.3,1221.6 646.3,1201.9 651.7,1201.9 651.7,1247.2 646.3,1247.2" fill="#ff00ff"/><polygon points="621.8,1224.6 645.7,1210.8 645.7,1238.4" fill="#fff"/><ellipse cx="637.9" cy="1224.6" rx="4.8" ry="3.8" fill="#ff00ff"/>
<polygon points="638.4,1227.3 638.4,1221.3 672.4,1201.6 677.8,1201.6 677.8,1247.0 672.4,1247.0" fill="#ff00ff"/><polygon points="647.9,1224.3 671.8,1210.5 671.8,1238.1" fill="#fff"/><ellipse cx="664.0" cy="1224.3" rx="4.8" ry="3.8" fill="#ff00ff"/>
<polygon points="664.6,1226.9 664.6,1220.9 698.6,1201.2 704.0,1201.2 704.0,1246.6 698.6,1246.6" fill="#ff00ff"/><polygon points="674.1,1223.9 698.0,1210.1 698.0,1237.7" fill="#fff"/><ellipse cx="690.2" cy="1223.9" rx="4.8" ry="3.8" fill="#ff00ff"/>
<polygon points="690.7,1226.5 690.7,1220.5 724.7,1200.8 730.1,1200.8 730.1,1246.2 724.7,1246.2" fill="#ff00ff"/><polygon points="700.2,1223.5 724.1,1209.7 724.1,1237.3" fill="#fff"/><ellipse cx="716.3" cy="1223.5" rx="4.8" ry="3.8" fill="#ff00ff"/>
<polygon points="716.8,1225.9 716.8,1219.9 750.8,1200.2 756.2,1200.2 756.2,1245.6 750.8,1245.6" fill="#ff00ff"/><polygon points="726.3,1222.9 750.2,1209.1 750.2,1236.7" fill="#fff"/><ellipse cx="742.4" cy="1222.9" rx="4.8" ry="3.8" fill="#ff00ff"/>
<polygon points="742.9,1225.0 742.9,1219.0 776.9,1199.3 782.3,1199.3 782.3,1244.7 776.9,1244.7" fill="#ff00ff"/><polygon points="752.4,1222.0 776.3,1208.2 776.3,1235.8" fill="#fff"/><ellipse cx="768.5" cy="1222.0" rx="4.8" ry="3.8" fill="#ff00ff"/>
<polygon points="769.0,1224.1 769.0,1218.1 803.0,1198.4 808.4,1198.4 808.4,1243.8 803.0,1243.8" fill="#ff00ff"/><polygon points="778.5,1221.1 802.4,1207.3 802.4,1234.9" fill="#fff"/><ellipse cx="794.6" cy="1221.1" rx="4.8" ry="3.8" fill="#ff00ff"/>
<polygon points="795.1,1223.4 795.1,1217.4 829.1,1197.8 834.5,1197.8 834.5,1243.1 829.1,1243.1" fill="#ff00ff"/><polygon points="804.6,1220.4 828.5,1206.6 828.5,1234.2" fill="#fff"/><ellipse cx="820.7" cy="1220.4" rx="4.8" ry="3.8" fill="#ff00ff"/>
<polygon points="821.3,1223.3 821.3,1217.3 855.3,1197.6 860.7,1197.6 860.7,1243.0 855.3,1243.0" fill="#ff00ff"/><polygon points="830.8,1220.3 854.7,1206.5 854.7,1234.1" fill="#fff"/><ellipse cx="846.9" cy="1220.3" rx="4.8" ry="3.8" fill="#ff00ff"/>
<polygon points="847.4,1223.1 847.4,1217.1 881.4,1197.4 886.8,1197.4 886.8,1242.8 881.4,1242.8" fill="#ff00ff"/><polygon points="856.9,1220.1 880.8,1206.3 880.8,1233.9" fill="#fff"/><ellipse cx="873.0" cy="1220.1" rx="4.8" ry="3.8" fill="#ff00ff"/>
<polygon points="873.5,1222.9 873.5,1216.9 907.5,1197.2 912.9,1197.2 912.9,1242.6 907.5,1242.6" fill="#ff00ff"/><polygon points="883.0,1219.9 906.9,1206.1 906.9,1233.7" fill="#fff"/><ellipse cx="899.1" cy="1219.9" rx="4.8" ry="3.8" fill="#ff00ff"/>
<polygon points="899.6,1222.8 899.6,1216.8 933.6,1197.1 939.0,1197.1 939.0,1242.5 933.6,1242.5" fill="#ff00ff"/><polygon points="909.1,1219.8 933.0,1206.0 933.0,1233.6" fill="#fff"/><ellipse cx="925.2" cy="1219.8" rx="4.8" ry="3.8" fill="#ff00ff"/>
<polygon points="925.7,1222.6 925.7,1216.6 959.7,1196.9 965.1,1196.9 965.1,1242.2 959.7,1242.2" fill="#ff00ff"/><polygon points="935.2,1219.6 959.1,1205.8 959.1,1233.4" fill="#fff"/><ellipse cx="951.3" cy="1219.6" rx="4.8" ry="3.8" fill="#ff00ff"/>
<polygon points="951.8,1222.5 951.8,1216.5 985.8,1196.8 991.2,1196.8 991.2,1242.2 985.8,1242.2" fill="#ff00ff"/><polygon points="961.3,1219.5 985.2,1205.7 985.2,1233.3" fill="#fff"/><ellipse cx="977.4" cy="1219.5" rx="4.8" ry="3.8" fill="#ff00ff"/>
<polygon points="978.0,1222.3 978.0,1216.3 1012.0,1196.6 1017.4,1196.6 1017.4,1242.0 1012.0,1242.0" fill="#ff00ff"/><polygon points="987.5,1219.3 1011.4,1205.5 1011.4,1233.1" fill="#fff"/><ellipse cx="1003.6" cy="1219.3" rx="4.8" ry="3.8" fill="#ff00ff"/>
<polygon points="1004.1,1221.5 1004.1,1215.5 1038.1,1195.8 1043.5,1195.8 1043.5,1241.2 1038.1,1241.2" fill="#ff00ff"/><polygon points="1013.6,1218.5 1037.5,1204.7 1037.5,1232.3" fill="#fff"/><ellipse cx="1029.7" cy="1218.5" rx="4.8" ry="3.8" fill="#ff00ff"/>
<polygon points="1030.2,1220.7 1030.2,1214.7 1064.2,1195.0 1069.6,1195.0 1069.6,1240.4 1064.2,1240.4" fill="#ff00ff"/><polygon points="1039.7,1217.7 1063.6,1203.9 1063.6,1231.5" fill="#fff"/><ellipse cx="1055.8" cy="1217.7" rx="4.8" ry="3.8" fill="#ff00ff"/>
<polygon points="1056.3,1219.9 1056.3,1213.9 1090.3,1194.2 1095.7,1194.2 1095.7,1239.6 1090.3,1239.6" fill="#ff00ff"/><polygon points="1065.8,1216.9 1089.7,1203.1 1089.7,1230.7" fill="#fff"/><ellipse cx="1081.9" cy="1216.9" rx="4.8" ry="3.8" fill="#ff00ff"/>
<polygon points="1082.4,1219.2 1082.4,1213.2 1116.4,1193.5 1121.8,1193.5 1121.8,1238.9 1116.4,1238.9" fill="#ff00ff"/><polygon points="1091.9,1216.2 1115.8,1202.4 1115.8,1230.0" fill="#fff"/><ellipse cx="1108.0" cy="1216.2" rx="4.8" ry="3.8" fill="#ff00ff"/>
<polygon points="1108.5,1218.4 1108.5,1212.4 1142.5,1192.8 1147.9,1192.8 1147.9,1238.1 1142.5,1238.1" fill="#ff00ff"/><polygon points="1118.0,1215.4 1141.9,1201.6 1141.9,1229.2" fill="#fff"/><ellipse cx="1134.1" cy="1215.4" rx="4.8" ry="3.8" fill="#ff00ff"/>
<polygon points="1134.7,1217.6 1134.7,1211.6 1168.7,1191.9 1174.1,1191.9 1174.1,1237.2 1168.7,1237.2" fill="#ff00ff"/><polygon points="1144.2,1214.6 1168.1,1200.8 1168.1,1228.4" fill="#fff"/><ellipse cx="1160.3" cy="1214.6" rx="4.8" ry="3.8" fill="#ff00ff"/>
<polygon points="1160.8,1216.8 1160.8,1210.8 1194.8,1191.1 1200.2,1191.1 1200.2,1236.5 1194.8,1236.5" fill="#ff00ff"/><polygon points="1170.3,1213.8 1194.2,1200.0 1194.2,1227.6" fill="#fff"/><ellipse cx="1186.4" cy="1213.8" rx="4.8" ry="3.8" fill="#ff00ff"/>
<polygon points="1186.9,1215.5 1186.9,1209.5 1220.9,1189.8 1226.3,1189.8 1226.3,1235.2 1220.9,1235.2" fill="#ff00ff"/><polygon points="1196.4,1212.5 1220.3,1198.7 1220.3,1226.3" fill="#fff"/><ellipse cx="1212.5" cy="1212.5" rx="4.8" ry="3.8" fill="#ff00ff"/>
<polygon points="1213.0,1214.4 1213.0,1208.4 1247.0,1188.8 1252.4,1188.8 1252.4,1234.1 1247.0,1234.1" fill="#ff00ff"/><polygon points="1222.5,1211.4 1246.4,1197.6 1246.4,1225.2" fill="#fff"/><ellipse cx="1238.6" cy="1211.4" rx="4.8" ry="3.8" fill="#ff00ff"/>
<polygon points="1239.1,1213.2 1239.1,1207.2 1273.1,1187.5 1278.5,1187.5 1278.5,1232.9 1273.1,1232.9" fill="#ff00ff"/><polygon points="1248.6,1210.2 1272.5,1196.4 1272.5,1224.0" fill="#fff"/><ellipse cx="1264.7" cy="1210.2" rx="4.8" ry="3.8" fill="#ff00ff"/>
<polygon points="1269.4,1210.9 1269.4,1204.9 1303.4,1185.2 1308.8,1185.2 1308.8,1230.6 1303.4,1230.6" fill="#ff00ff"/><polygon points="1278.9,1207.9 1302.8,1194.1 1302.8,1221.7" fill="#fff"/><ellipse cx="1295.0" cy="1207.9" rx="4.8" ry="3.8" fill="#ff00ff"/>
<polygon points="1295.4,1207.4 1295.4,1201.4 1329.4,1181.8 1334.8,1181.8 1334.8,1227.1 1329.4,1227.1" fill="#ff00ff"/><polygon points="1304.9,1204.4 1328.8,1190.6 1328.8,1218.2" fill="#fff"/><ellipse cx="1321.0" cy="1204.4" rx="4.8" ry="3.8" fill="#ff00ff"/>
<polygon points="1320.0,1204.7 1320.0,1198.7 1354.0,1179.0 1359.4,1179.0 1359.4,1224.4 1354.0,1224.4" fill="#ff00ff"/><polygon points="1329.5,1201.7 1353.4,1187.9 1353.4,1215.5" fill="#fff"/><ellipse cx="1345.6" cy="1201.7" rx="4.8" ry="3.8" fill="#ff00ff"/>
<polygon points="1346.1,1203.2 1346.1,1197.2 1380.1,1177.5 1385.5,1177.5 1385.5,1222.9 1380.1,1222.9" fill="#ff00ff"/><polygon points="1355.6,1200.2 1379.5,1186.4 1379.5,1214.0" fill="#fff"/><ellipse cx="1371.7" cy="1200.2" rx="4.8" ry="3.8" fill="#ff00ff"/>
<polygon points="1372.2,1200.4 1372.2,1194.4 1406.2,1174.8 1411.6,1174.8 1411.6,1220.1 1406.2,1220.1" fill="#ff00ff"/><polygon points="1381.7,1197.4 1405.6,1183.6 1405.6,1211.2" fill="#fff"/><ellipse cx="1397.8" cy="1197.4" rx="4.8" ry="3.8" fill="#ff00ff"/>
<polygon points="1398.4,1197.7 1398.4,1191.7 1432.4,1172.0 1437.8,1172.0 1437.8,1217.4 1432.4,1217.4" fill="#ff00ff"/><polygon points="1407.9,1194.7 1431.8,1180.9 1431.8,1208.5" fill="#fff"/><ellipse cx="1424.0" cy="1194.7" rx="4.8" ry="3.8" fill="#ff00ff"/>
<polygon points="1424.4,1196.2 1424.4,1190.2 1458.4,1170.5 1463.8,1170.5 1463.8,1215.9 1458.4,1215.9" fill="#ff00ff"/><polygon points="1433.9,1193.2 1457.8,1179.4 1457.8,1207.0" fill="#fff"/><ellipse cx="1450.0" cy="1193.2" rx="4.8" ry="3.8" fill="#ff00ff"/>
<polygon points="1450.4,1192.6 1450.4,1186.6 1484.4,1166.9 1489.8,1166.9 1489.8,1212.2 1484.4,1212.2" fill="#ff00ff"/><polygon points="1459.9,1189.6 1483.8,1175.8 1483.8,1203.4" fill="#fff"/><ellipse cx="1476.0" cy="1189.6" rx="4.8" ry="3.8" fill="#ff00ff"/>
<polygon points="1476.4,1190.1 1476.4,1184.1 1510.4,1164.4 1515.8,1164.4 1515.8,1209.8 1510.4,1209.8" fill="#ff00ff"/><polygon points="1485.9,1187.1 1509.8,1173.3 1509.8,1200.9" fill="#fff"/><ellipse cx="1502.0" cy="1187.1" rx="4.8" ry="3.8" fill="#ff00ff"/>
<polygon points="1500.9,1187.4 1500.9,1181.4 1534.9,1161.8 1540.3,1161.8 1540.3,1207.1 1534.9,1207.1" fill="#ff00ff"/><polygon points="1510.4,1184.4 1534.3,1170.6 1534.3,1198.2" fill="#fff"/><ellipse cx="1526.5" cy="1184.4" rx="4.8" ry="3.8" fill="#ff00ff"/>
<polygon points="1527.0,1184.7 1527.0,1178.7 1561.0,1159.0 1566.4,1159.0 1566.4,1204.4 1561.0,1204.4" fill="#ff00ff"/><polygon points="1536.5,1181.7 1560.4,1167.9 1560.4,1195.5" fill="#fff"/><ellipse cx="1552.6" cy="1181.7" rx="4.8" ry="3.8" fill="#ff00ff"/>
<polygon points="1553.1,1179.5 1553.1,1173.5 1587.1,1153.8 1592.5,1153.8 1592.5,1199.2 1587.1,1199.2" fill="#ff00ff"/><polygon points="1562.6,1176.5 1586.5,1162.7 1586.5,1190.3" fill="#fff"/><ellipse cx="1578.7" cy="1176.5" rx="4.8" ry="3.8" fill="#ff00ff"/>
<polygon points="1577.4,1175.3 1577.4,1169.3 1611.4,1149.6 1616.8,1149.6 1616.8,1195.0 1611.4,1195.0" fill="#ff00ff"/><polygon points="1586.9,1172.3 1610.8,1158.5 1610.8,1186.1" fill="#fff"/><ellipse cx="1603.0" cy="1172.3" rx="4.8" ry="3.8" fill="#ff00ff"/>
<polygon points="1601.8,1170.5 1601.8,1164.5 1635.8,1144.8 1641.2,1144.8 1641.2,1190.2 1635.8,1190.2" fill="#ff00ff"/><polygon points="1611.3,1167.5 1635.2,1153.7 1635.2,1181.3" fill="#fff"/><ellipse cx="1627.4" cy="1167.5" rx="4.8" ry="3.8" fill="#ff00ff"/>
<polygon points="1628.9,1163.6 1628.9,1157.6 1662.9,1137.9 1668.3,1137.9 1668.3,1183.2 1662.9,1183.2" fill="#ff00ff"/><polygon points="1638.4,1160.6 1662.3,1146.8 1662.3,1174.4" fill="#fff"/><ellipse cx="1654.5" cy="1160.6" rx="4.8" ry="3.8" fill="#ff00ff"/>
<polygon points="1655.1,1157.4 1655.1,1151.4 1689.1,1131.8 1694.5,1131.8 1694.5,1177.1 1689.1,1177.1" fill="#ff00ff"/><polygon points="1664.6,1154.4 1688.5,1140.6 1688.5,1168.2" fill="#fff"/><ellipse cx="1680.7" cy="1154.4" rx="4.8" ry="3.8" fill="#ff00ff"/>
<polygon points="1680.6,1148.1 1680.6,1142.1 1714.6,1122.4 1720.0,1122.4 1720.0,1167.8 1714.6,1167.8" fill="#ff00ff"/><polygon points="1690.1,1145.1 1714.0,1131.3 1714.0,1158.9" fill="#fff"/><ellipse cx="1706.2" cy="1145.1" rx="4.8" ry="3.8" fill="#ff00ff"/>
<polygon points="1707.6,1138.9 1707.6,1132.9 1741.6,1113.2 1747.0,1113.2 1747.0,1158.6 1741.6,1158.6" fill="#ff00ff"/><polygon points="1717.1,1135.9 1741.0,1122.1 1741.0,1149.7" fill="#fff"/><ellipse cx="1733.2" cy="1135.9" rx="4.8" ry="3.8" fill="#ff00ff"/>
<polygon points="1732.3,1127.3 1732.3,1121.3 1766.3,1101.6 1771.7,1101.6 1771.7,1147.0 1766.3,1147.0" fill="#ff00ff"/><polygon points="1741.8,1124.3 1765.7,1110.5 1765.7,1138.1" fill="#fff"/><ellipse cx="1757.9" cy="1124.3" rx="4.8" ry="3.8" fill="#ff00ff"/>
<polygon points="1757.3,1115.9 1757.3,1109.9 1791.3,1090.2 1796.7,1090.2 1796.7,1135.6 1791.3,1135.6" fill="#ff00ff"/><polygon points="1766.8,1112.9 1790.7,1099.1 1790.7,1126.7" fill="#fff"/><ellipse cx="1782.9" cy="1112.9" rx="4.8" ry="3.8" fill="#ff00ff"/>
<polygon points="1784.3,1099.3 1784.3,1093.3 1818.3,1073.6 1823.7,1073.6 1823.7,1119.0 1818.3,1119.0" fill="#ff00ff"/><polygon points="1793.8,1096.3 1817.7,1082.5 1817.7,1110.1" fill="#fff"/><ellipse cx="1809.9" cy="1096.3" rx="4.8" ry="3.8" fill="#ff00ff"/>
<polygon points="1810.3,1083.7 1810.3,1077.7 1844.3,1058.0 1849.7,1058.0 1849.7,1103.4 1844.3,1103.4" fill="#ff00ff"/><polygon points="1819.8,1080.7 1843.7,1066.9 1843.7,1094.5" fill="#fff"/><ellipse cx="1835.9" cy="1080.7" rx="4.8" ry="3.8" fill="#ff00ff"/>
<polygon points="1836.3,1066.0 1836.3,1060.0 1870.3,1040.3 1875.7,1040.3 1875.7,1085.7 1870.3,1085.7" fill="#ff00ff"/><polygon points="1845.8,1063.0 1869.7,1049.2 1869.7,1076.8" fill="#fff"/><ellipse cx="1861.9" cy="1063.0" rx="4.8" ry="3.8" fill="#ff00ff"/>
<polygon points="1861.2,1046.3 1861.2,1040.3 1895.2,1020.6 1900.6,1020.6 1900.6,1066.0 1895.2,1066.0" fill="#ff00ff"/><polygon points="1870.7,1043.3 1894.6,1029.5 1894.6,1057.1" fill="#fff"/><ellipse cx="1886.8" cy="1043.3" rx="4.8" ry="3.8" fill="#ff00ff"/>
<polygon points="1887.2,1023.4 1887.2,1017.4 1921.2,997.8 1926.6,997.8 1926.6,1043.0 1921.2,1043.0" fill="#ff00ff"/><polygon points="1896.7,1020.4 1920.6,1006.6 1920.6,1034.2" fill="#fff"/><ellipse cx="1912.8" cy="1020.4" rx="4.8" ry="3.8" fill="#ff00ff"/>
<polygon points="1913.1,1000.6 1913.1,994.6 1947.1,975.0 1952.5,975.0 1952.5,1020.2 1947.1,1020.2" fill="#ff00ff"/><polygon points="1922.6,997.6 1946.5,983.8 1946.5,1011.4" fill="#fff"/><ellipse cx="1938.7" cy="997.6" rx="4.8" ry="3.8" fill="#ff00ff"/>
<polygon points="1939.1,974.6 1939.1,968.6 1973.1,949.0 1978.5,949.0 1978.5,994.2 1973.1,994.2" fill="#ff00ff"/><polygon points="1948.6,971.6 1972.5,957.8 1972.5,985.4" fill="#fff"/><ellipse cx="1964.7" cy="971.6" rx="4.8" ry="3.8" fill="#ff00ff"/>
<polygon points="1965.1,946.5 1965.1,940.5 1999.1,920.9 2004.5,920.9 2004.5,966.1 1999.1,966.1" fill="#ff00ff"/><polygon points="1974.6,943.5 1998.5,929.7 1998.5,957.3" fill="#fff"/><ellipse cx="1990.7" cy="943.5" rx="4.8" ry="3.8" fill="#ff00ff"/>
<polygon points="1990.1,918.5 1990.1,912.5 2024.1,892.9 2029.5,892.9 2029.5,938.1 2024.1,938.1" fill="#ff00ff"/><polygon points="1999.6,915.5 2023.5,901.7 2023.5,929.3" fill="#fff"/><ellipse cx="2015.7" cy="915.5" rx="4.8" ry="3.8" fill="#ff00ff"/>
<polygon points="386.4,653.5 386.4,659.5 352.4,679.1 347.0,679.1 347.0,633.9 352.4,633.9" fill="#808000"/><polygon points="376.9,656.5 353.0,670.3 353.0,642.7" fill="#fff"/><ellipse cx="360.8" cy="656.5" rx="4.8" ry="3.8" fill="#808000"/>
<polygon points="398.1,481.0 398.1,487.0 364.1,506.6 358.7,506.6 358.7,461.4 364.1,461.4" fill="#808000"/><polygon points="388.6,484.0 364.7,497.8 364.7,470.2" fill="#fff"/><ellipse cx="372.5" cy="484.0" rx="4.8" ry="3.8" fill="#808000"/>
<polygon points="401.6,455.0 401.6,461.0 367.6,480.6 362.2,480.6 362.2,435.4 367.6,435.4" fill="#808000"/><polygon points="392.1,458.0 368.2,471.8 368.2,444.2" fill="#fff"/><ellipse cx="376.0" cy="458.0" rx="4.8" ry="3.8" fill="#808000"/>
<polygon points="405.6,437.0 405.6,443.0 371.6,462.6 366.2,462.6 366.2,417.4 371.6,417.4" fill="#808000"/><polygon points="396.1,440.0 372.2,453.8 372.2,426.2" fill="#fff"/><ellipse cx="380.0" cy="440.0" rx="4.8" ry="3.8" fill="#808000"/>
<polygon points="411.6,407.6 411.6,413.6 377.6,433.2 372.2,433.2 372.2,388.0 377.6,388.0" fill="#808000"/><polygon points="402.1,410.6 378.2,424.4 378.2,396.8" fill="#fff"/><ellipse cx="386.0" cy="410.6" rx="4.8" ry="3.8" fill="#808000"/>
<polygon points="417.6,388.8 417.6,394.8 383.6,414.4 378.2,414.4 378.2,369.2 383.6,369.2" fill="#808000"/><polygon points="408.1,391.8 384.2,405.6 384.2,378.0" fill="#fff"/><ellipse cx="392.0" cy="391.8" rx="4.8" ry="3.8" fill="#808000"/>
<polygon points="423.9,371.3 423.9,377.3 389.9,396.9 384.5,396.9 384.5,351.7 389.9,351.7" fill="#808000"/><polygon points="414.4,374.3 390.5,388.1 390.5,360.5" fill="#fff"/><ellipse cx="398.3" cy="374.3" rx="4.8" ry="3.8" fill="#808000"/>
<polygon points="451.1,326.7 451.1,332.7 417.1,352.3 411.7,352.3 411.7,307.1 417.1,307.1" fill="#808000"/><polygon points="441.6,329.7 417.7,343.5 417.7,315.9" fill="#fff"/><ellipse cx="425.5" cy="329.7" rx="4.8" ry="3.8" fill="#808000"/>
<polygon points="476.8,301.7 476.8,307.7 442.8,327.3 437.4,327.3 437.4,282.1 442.8,282.1" fill="#808000"/><polygon points="467.3,304.7 443.4,318.5 443.4,290.9" fill="#fff"/><ellipse cx="451.2" cy="304.7" rx="4.8" ry="3.8" fill="#808000"/>
<polygon points="502.4,284.1 502.4,290.1 468.4,309.8 463.0,309.8 463.0,264.5 468.4,264.5" fill="#808000"/><polygon points="492.9,287.1 469.0,300.9 469.0,273.3" fill="#fff"/><ellipse cx="476.8" cy="287.1" rx="4.8" ry="3.8" fill="#808000"/>
<polygon points="528.7,271.9 528.7,277.9 494.7,297.5 489.3,297.5 489.3,252.2 494.7,252.2" fill="#808000"/><polygon points="519.2,274.9 495.3,288.7 495.3,261.1" fill="#fff"/><ellipse cx="503.1" cy="274.9" rx="4.8" ry="3.8" fill="#808000"/>
<polygon points="555.9,262.3 555.9,268.3 521.9,287.9 516.5,287.9 516.5,242.7 521.9,242.7" fill="#808000"/><polygon points="546.4,265.3 522.5,279.1 522.5,251.5" fill="#fff"/><ellipse cx="530.3" cy="265.3" rx="4.8" ry="3.8" fill="#808000"/>
<polygon points="586.8,251.2 586.8,257.2 552.8,276.8 547.4,276.8 547.4,231.5 552.8,231.5" fill="#808000"/><polygon points="577.3,254.2 553.4,268.0 553.4,240.4" fill="#fff"/><ellipse cx="561.2" cy="254.2" rx="4.8" ry="3.8" fill="#808000"/>
<polygon points="614.7,244.8 614.7,250.8 580.7,270.4 575.3,270.4 575.3,225.2 580.7,225.2" fill="#808000"/><polygon points="605.2,247.8 581.3,261.6 581.3,234.0" fill="#fff"/><ellipse cx="589.1" cy="247.8" rx="4.8" ry="3.8" fill="#808000"/>
<polygon points="642.7,240.5 642.7,246.5 608.7,266.1 603.3,266.1 603.3,220.8 608.7,220.8" fill="#808000"/><polygon points="633.2,243.5 609.3,257.3 609.3,229.7" fill="#fff"/><ellipse cx="617.1" cy="243.5" rx="4.8" ry="3.8" fill="#808000"/>
<polygon points="664.2,238.8 664.2,244.8 630.2,264.4 624.8,264.4 624.8,219.2 630.2,219.2" fill="#808000"/><polygon points="654.7,241.8 630.8,255.6 630.8,228.0" fill="#fff"/><ellipse cx="638.6" cy="241.8" rx="4.8" ry="3.8" fill="#808000"/>
<polygon points="687.9,233.0 687.9,239.0 653.9,258.6 648.5,258.6 648.5,213.3 653.9,213.3" fill="#808000"/><polygon points="678.4,236.0 654.5,249.8 654.5,222.2" fill="#fff"/><ellipse cx="662.3" cy="236.0" rx="4.8" ry="3.8" fill="#808000"/>
<polygon points="715.9,233.4 715.9,239.4 681.9,259.1 676.5,259.1 676.5,213.8 681.9,213.8" fill="#808000"/><polygon points="706.4,236.4 682.5,250.2 682.5,222.6" fill="#fff"/><ellipse cx="690.3" cy="236.4" rx="4.8" ry="3.8" fill="#808000"/>
<polygon points="738.5,233.4 738.5,239.4 704.5,259.1 699.1,259.1 699.1,213.8 704.5,213.8" fill="#808000"/><polygon points="729.0,236.4 705.1,250.2 705.1,222.6" fill="#fff"/><ellipse cx="712.9" cy="236.4" rx="4.8" ry="3.8" fill="#808000"/>
<polygon points="766.4,227.6 766.4,233.6 732.4,253.2 727.0,253.2 727.0,207.9 732.4,207.9" fill="#808000"/><polygon points="756.9,230.6 733.0,244.4 733.0,216.8" fill="#fff"/><ellipse cx="740.8" cy="230.6" rx="4.8" ry="3.8" fill="#808000"/>
<polygon points="795.5,223.3 795.5,229.3 761.5,249.0 756.1,249.0 756.1,203.7 761.5,203.7" fill="#808000"/><polygon points="786.0,226.3 762.1,240.1 762.1,212.5" fill="#fff"/><ellipse cx="769.9" cy="226.3" rx="4.8" ry="3.8" fill="#808000"/>
<polygon points="814.8,223.9 814.8,229.9 780.8,249.6 775.4,249.6 775.4,204.2 780.8,204.2" fill="#808000"/><polygon points="805.3,226.9 781.4,240.7 781.4,213.1" fill="#fff"/><ellipse cx="789.2" cy="226.9" rx="4.8" ry="3.8" fill="#808000"/>
<polygon points="849.3,223.3 849.3,229.3 815.3,249.0 809.9,249.0 809.9,203.7 815.3,203.7" fill="#808000"/><polygon points="839.8,226.3 815.9,240.1 815.9,212.5" fill="#fff"/><ellipse cx="823.7" cy="226.3" rx="4.8" ry="3.8" fill="#808000"/>
<polygon points="874.0,223.3 874.0,229.3 840.0,249.0 834.6,249.0 834.6,203.7 840.0,203.7" fill="#808000"/><polygon points="864.5,226.3 840.6,240.1 840.6,212.5" fill="#fff"/><ellipse cx="848.4" cy="226.3" rx="4.8" ry="3.8" fill="#808000"/>
<polygon points="897.7,213.2 897.7,219.2 863.7,238.8 858.3,238.8 858.3,193.5 863.7,193.5" fill="#808000"/><polygon points="888.2,216.2 864.3,230.0 864.3,202.4" fill="#fff"/><ellipse cx="872.1" cy="216.2" rx="4.8" ry="3.8" fill="#808000"/>
<polygon points="928.9,212.5 928.9,218.5 894.9,238.2 889.5,238.2 889.5,192.8 894.9,192.8" fill="#808000"/><polygon points="919.4,215.5 895.5,229.3 895.5,201.7" fill="#fff"/><ellipse cx="903.3" cy="215.5" rx="4.8" ry="3.8" fill="#808000"/>
<polygon points="955.8,211.4 955.8,217.4 921.8,237.1 916.4,237.1 916.4,191.8 921.8,191.8" fill="#808000"/><polygon points="946.3,214.4 922.4,228.2 922.4,200.6" fill="#fff"/><ellipse cx="930.2" cy="214.4" rx="4.8" ry="3.8" fill="#808000"/>
<polygon points="978.4,209.7 978.4,215.7 944.4,235.3 939.0,235.3 939.0,190.0 944.4,190.0" fill="#808000"/><polygon points="968.9,212.7 945.0,226.5 945.0,198.9" fill="#fff"/><ellipse cx="952.8" cy="212.7" rx="4.8" ry="3.8" fill="#808000"/>
<polygon points="1006.4,206.1 1006.4,212.1 972.4,231.8 967.0,231.8 967.0,186.4 972.4,186.4" fill="#808000"/><polygon points="996.9,209.1 973.0,222.9 973.0,195.3" fill="#fff"/><ellipse cx="980.8" cy="209.1" rx="4.8" ry="3.8" fill="#808000"/>
<polygon points="1031.1,202.8 1031.1,208.8 997.1,228.5 991.7,228.5 991.7,183.2 997.1,183.2" fill="#808000"/><polygon points="1021.6,205.8 997.7,219.6 997.7,192.0" fill="#fff"/><ellipse cx="1005.5" cy="205.8" rx="4.8" ry="3.8" fill="#808000"/>
<polygon points="1058.8,201.2 1058.8,207.2 1024.8,226.8 1019.4,226.8 1019.4,181.5 1024.8,181.5" fill="#808000"/><polygon points="1049.3,204.2 1025.4,218.0 1025.4,190.4" fill="#fff"/><ellipse cx="1033.2" cy="204.2" rx="4.8" ry="3.8" fill="#808000"/>
<polygon points="1085.6,197.6 1085.6,203.6 1051.6,223.2 1046.2,223.2 1046.2,177.9 1051.6,177.9" fill="#808000"/><polygon points="1076.1,200.6 1052.2,214.4 1052.2,186.8" fill="#fff"/><ellipse cx="1060.0" cy="200.6" rx="4.8" ry="3.8" fill="#808000"/>
<polygon points="1110.8,195.3 1110.8,201.3 1076.8,221.0 1071.4,221.0 1071.4,175.7 1076.8,175.7" fill="#808000"/><polygon points="1101.3,198.3 1077.4,212.1 1077.4,184.5" fill="#fff"/><ellipse cx="1085.2" cy="198.3" rx="4.8" ry="3.8" fill="#808000"/>
<polygon points="1133.2,193.5 1133.2,199.5 1099.2,219.2 1093.8,219.2 1093.8,173.8 1099.2,173.8" fill="#808000"/><polygon points="1123.7,196.5 1099.8,210.3 1099.8,182.7" fill="#fff"/><ellipse cx="1107.6" cy="196.5" rx="4.8" ry="3.8" fill="#808000"/>
<polygon points="1160.6,187.5 1160.6,193.5 1126.6,213.2 1121.2,213.2 1121.2,167.8 1126.6,167.8" fill="#808000"/><polygon points="1151.1,190.5 1127.2,204.3 1127.2,176.7" fill="#fff"/><ellipse cx="1135.0" cy="190.5" rx="4.8" ry="3.8" fill="#808000"/>
<polygon points="1187.0,187.5 1187.0,193.5 1153.0,213.2 1147.6,213.2 1147.6,167.8 1153.0,167.8" fill="#808000"/><polygon points="1177.5,190.5 1153.6,204.3 1153.6,176.7" fill="#fff"/><ellipse cx="1161.4" cy="190.5" rx="4.8" ry="3.8" fill="#808000"/>
<polygon points="1213.8,186.4 1213.8,192.4 1179.8,212.1 1174.4,212.1 1174.4,166.8 1179.8,166.8" fill="#808000"/><polygon points="1204.3,189.4 1180.4,203.2 1180.4,175.6" fill="#fff"/><ellipse cx="1188.2" cy="189.4" rx="4.8" ry="3.8" fill="#808000"/>
<polygon points="1239.6,183.8 1239.6,189.8 1205.6,209.5 1200.2,209.5 1200.2,164.2 1205.6,164.2" fill="#808000"/><polygon points="1230.1,186.8 1206.2,200.6 1206.2,173.0" fill="#fff"/><ellipse cx="1214.0" cy="186.8" rx="4.8" ry="3.8" fill="#808000"/>
<polygon points="1266.4,183.4 1266.4,189.4 1232.4,209.1 1227.0,209.1 1227.0,163.8 1232.4,163.8" fill="#808000"/><polygon points="1256.9,186.4 1233.0,200.2 1233.0,172.6" fill="#fff"/><ellipse cx="1240.8" cy="186.4" rx="4.8" ry="3.8" fill="#808000"/>
<polygon points="1291.6,179.3 1291.6,185.3 1257.6,205.0 1252.2,205.0 1252.2,159.7 1257.6,159.7" fill="#808000"/><polygon points="1282.1,182.3 1258.2,196.1 1258.2,168.5" fill="#fff"/><ellipse cx="1266.0" cy="182.3" rx="4.8" ry="3.8" fill="#808000"/>
<polygon points="1316.4,177.0 1316.4,183.0 1282.4,202.7 1277.0,202.7 1277.0,157.3 1282.4,157.3" fill="#808000"/><polygon points="1306.9,180.0 1283.0,193.8 1283.0,166.2" fill="#fff"/><ellipse cx="1290.8" cy="180.0" rx="4.8" ry="3.8" fill="#808000"/>
<polygon points="1342.6,175.4 1342.6,181.4 1308.6,201.1 1303.2,201.1 1303.2,155.8 1308.6,155.8" fill="#808000"/><polygon points="1333.1,178.4 1309.2,192.2 1309.2,164.6" fill="#fff"/><ellipse cx="1317.0" cy="178.4" rx="4.8" ry="3.8" fill="#808000"/>
<polygon points="1369.0,174.2 1369.0,180.2 1335.0,199.8 1329.6,199.8 1329.6,154.5 1335.0,154.5" fill="#808000"/><polygon points="1359.5,177.2 1335.6,191.0 1335.6,163.4" fill="#fff"/><ellipse cx="1343.4" cy="177.2" rx="4.8" ry="3.8" fill="#808000"/>
<polygon points="1395.3,171.5 1395.3,177.5 1361.3,197.2 1355.9,197.2 1355.9,151.8 1361.3,151.8" fill="#808000"/><polygon points="1385.8,174.5 1361.9,188.3 1361.9,160.7" fill="#fff"/><ellipse cx="1369.7" cy="174.5" rx="4.8" ry="3.8" fill="#808000"/>
<polygon points="1420.5,169.7 1420.5,175.7 1386.5,195.3 1381.1,195.3 1381.1,150.0 1386.5,150.0" fill="#808000"/><polygon points="1411.0,172.7 1387.1,186.5 1387.1,158.9" fill="#fff"/><ellipse cx="1394.9" cy="172.7" rx="4.8" ry="3.8" fill="#808000"/>
<polygon points="1446.8,168.5 1446.8,174.5 1412.8,194.2 1407.4,194.2 1407.4,148.8 1412.8,148.8" fill="#808000"/><polygon points="1437.3,171.5 1413.4,185.3 1413.4,157.7" fill="#fff"/><ellipse cx="1421.2" cy="171.5" rx="4.8" ry="3.8" fill="#808000"/>
<polygon points="1472.0,166.9 1472.0,172.9 1438.0,192.6 1432.6,192.6 1432.6,147.2 1438.0,147.2" fill="#808000"/><polygon points="1462.5,169.9 1438.6,183.7 1438.6,156.1" fill="#fff"/><ellipse cx="1446.4" cy="169.9" rx="4.8" ry="3.8" fill="#808000"/>
<polygon points="1499.5,165.8 1499.5,171.8 1465.5,191.5 1460.1,191.5 1460.1,146.2 1465.5,146.2" fill="#808000"/><polygon points="1490.0,168.8 1466.1,182.6 1466.1,155.0" fill="#fff"/><ellipse cx="1473.9" cy="168.8" rx="4.8" ry="3.8" fill="#808000"/>
<polygon points="1524.6,162.5 1524.6,168.5 1490.6,188.2 1485.2,188.2 1485.2,142.8 1490.6,142.8" fill="#808000"/><polygon points="1515.1,165.5 1491.2,179.3 1491.2,151.7" fill="#fff"/><ellipse cx="1499.0" cy="165.5" rx="4.8" ry="3.8" fill="#808000"/>
<polygon points="1551.2,160.8 1551.2,166.8 1517.2,186.5 1511.8,186.5 1511.8,141.2 1517.2,141.2" fill="#808000"/><polygon points="1541.7,163.8 1517.8,177.6 1517.8,150.0" fill="#fff"/><ellipse cx="1525.6" cy="163.8" rx="4.8" ry="3.8" fill="#808000"/>
<polygon points="1574.8,167.8 1574.8,173.8 1540.8,193.5 1535.4,193.5 1535.4,148.2 1540.8,148.2" fill="#808000"/><polygon points="1565.3,170.8 1541.4,184.6 1541.4,157.0" fill="#fff"/><ellipse cx="1549.2" cy="170.8" rx="4.8" ry="3.8" fill="#808000"/>
<polygon points="1602.5,163.4 1602.5,169.4 1568.5,189.1 1563.1,189.1 1563.1,143.8 1568.5,143.8" fill="#808000"/><polygon points="1593.0,166.4 1569.1,180.2 1569.1,152.6" fill="#fff"/><ellipse cx="1576.9" cy="166.4" rx="4.8" ry="3.8" fill="#808000"/>
<polygon points="1628.2,162.9 1628.2,168.9 1594.2,188.6 1588.8,188.6 1588.8,143.2 1594.2,143.2" fill="#808000"/><polygon points="1618.7,165.9 1594.8,179.7 1594.8,152.1" fill="#fff"/><ellipse cx="1602.6" cy="165.9" rx="4.8" ry="3.8" fill="#808000"/>
<polygon points="1653.8,160.8 1653.8,166.8 1619.8,186.5 1614.4,186.5 1614.4,141.2 1619.8,141.2" fill="#808000"/><polygon points="1644.3,163.8 1620.4,177.6 1620.4,150.0" fill="#fff"/><ellipse cx="1628.2" cy="163.8" rx="4.8" ry="3.8" fill="#808000"/>
<polygon points="1680.0,160.8 1680.0,166.8 1646.0,186.5 1640.6,186.5 1640.6,141.2 1646.0,141.2" fill="#808000"/><polygon points="1670.5,163.8 1646.6,177.6 1646.6,150.0" fill="#fff"/><ellipse cx="1654.4" cy="163.8" rx="4.8" ry="3.8" fill="#808000"/>
<polygon points="1706.1,160.8 1706.1,166.8 1672.1,186.5 1666.7,186.5 1666.7,141.2 1672.1,141.2" fill="#808000"/><polygon points="1696.6,163.8 1672.7,177.6 1672.7,150.0" fill="#fff"/><ellipse cx="1680.5" cy="163.8" rx="4.8" ry="3.8" fill="#808000"/>
<polygon points="1731.2,160.1 1731.2,166.1 1697.2,185.8 1691.8,185.8 1691.8,140.4 1697.2,140.4" fill="#808000"/><polygon points="1721.7,163.1 1697.8,176.9 1697.8,149.3" fill="#fff"/><ellipse cx="1705.6" cy="163.1" rx="4.8" ry="3.8" fill="#808000"/>
<polygon points="1758.2,160.3 1758.2,166.3 1724.2,186.0 1718.8,186.0 1718.8,140.7 1724.2,140.7" fill="#808000"/><polygon points="1748.7,163.3 1724.8,177.1 1724.8,149.5" fill="#fff"/><ellipse cx="1732.6" cy="163.3" rx="4.8" ry="3.8" fill="#808000"/>
<polygon points="1783.8,160.1 1783.8,166.1 1749.8,185.8 1744.4,185.8 1744.4,140.4 1749.8,140.4" fill="#808000"/><polygon points="1774.3,163.1 1750.4,176.9 1750.4,149.3" fill="#fff"/><ellipse cx="1758.2" cy="163.1" rx="4.8" ry="3.8" fill="#808000"/>
<polygon points="1809.4,159.6 1809.4,165.6 1775.4,185.2 1770.0,185.2 1770.0,139.9 1775.4,139.9" fill="#808000"/><polygon points="1799.9,162.6 1776.0,176.4 1776.0,148.8" fill="#fff"/><ellipse cx="1783.8" cy="162.6" rx="4.8" ry="3.8" fill="#808000"/>
<polygon points="1835.1,158.3 1835.1,164.3 1801.1,184.0 1795.7,184.0 1795.7,138.7 1801.1,138.7" fill="#808000"/><polygon points="1825.6,161.3 1801.7,175.1 1801.7,147.5" fill="#fff"/><ellipse cx="1809.5" cy="161.3" rx="4.8" ry="3.8" fill="#808000"/>
<polygon points="1860.7,157.0 1860.7,163.0 1826.7,182.7 1821.3,182.7 1821.3,137.3 1826.7,137.3" fill="#808000"/><polygon points="1851.2,160.0 1827.3,173.8 1827.3,146.2" fill="#fff"/><ellipse cx="1835.1" cy="160.0" rx="4.8" ry="3.8" fill="#808000"/>
<polygon points="1886.4,157.0 1886.4,163.0 1852.4,182.7 1847.0,182.7 1847.0,137.3 1852.4,137.3" fill="#808000"/><polygon points="1876.9,160.0 1853.0,173.8 1853.0,146.2" fill="#fff"/><ellipse cx="1860.8" cy="160.0" rx="4.8" ry="3.8" fill="#808000"/>
<polygon points="1912.0,155.2 1912.0,161.2 1878.0,180.8 1872.6,180.8 1872.6,135.5 1878.0,135.5" fill="#808000"/><polygon points="1902.5,158.2 1878.6,172.0 1878.6,144.4" fill="#fff"/><ellipse cx="1886.4" cy="158.2" rx="4.8" ry="3.8" fill="#808000"/>
<polygon points="1938.2,154.4 1938.2,160.4 1904.2,180.1 1898.8,180.1 1898.8,134.8 1904.2,134.8" fill="#808000"/><polygon points="1928.7,157.4 1904.8,171.2 1904.8,143.6" fill="#fff"/><ellipse cx="1912.6" cy="157.4" rx="4.8" ry="3.8" fill="#808000"/>
<polygon points="1963.3,154.4 1963.3,160.4 1929.3,180.1 1923.9,180.1 1923.9,134.8 1929.3,134.8" fill="#808000"/><polygon points="1953.8,157.4 1929.9,171.2 1929.9,143.6" fill="#fff"/><ellipse cx="1937.7" cy="157.4" rx="4.8" ry="3.8" fill="#808000"/>
<polygon points="1988.9,155.2 1988.9,161.2 1954.9,180.8 1949.5,180.8 1949.5,135.5 1954.9,135.5" fill="#808000"/><polygon points="1979.4,158.2 1955.5,172.0 1955.5,144.4" fill="#fff"/><ellipse cx="1963.3" cy="158.2" rx="4.8" ry="3.8" fill="#808000"/>
<polygon points="2014.6,158.3 2014.6,164.3 1980.6,184.0 1975.2,184.0 1975.2,138.7 1980.6,138.7" fill="#808000"/><polygon points="2005.1,161.3 1981.2,175.1 1981.2,147.5" fill="#fff"/><ellipse cx="1989.0" cy="161.3" rx="4.8" ry="3.8" fill="#808000"/>
<polygon points="2037.6,159.6 2037.6,165.6 2003.6,185.2 1998.2,185.2 1998.2,139.9 2003.6,139.9" fill="#808000"/><polygon points="2028.1,162.6 2004.2,176.4 2004.2,148.8" fill="#fff"/><ellipse cx="2012.0" cy="162.6" rx="4.8" ry="3.8" fill="#808000"/>
</g>
<rect x="310.5" y="73.5" width="1865.9" height="9.8" fill="#000"/>
<rect x="289.0" y="1437.3" width="1887.4" height="10.8" fill="#000"/>
<rect x="310.5" y="73.5" width="11.3" height="1374.6" fill="#000"/>
<rect x="2165.7" y="73.5" width="10.7" height="1396.5" fill="#000"/>
<rect x="302.6" y="1362.2" width="13.4" height="9.4" fill="#000"/>
<rect x="2157.4" y="1362.2" width="13.6" height="9.4" fill="#000"/>
<rect x="289.0" y="1286.4" width="27.0" height="9.4" fill="#000"/>
<rect x="2143.4" y="1286.4" width="27.6" height="9.4" fill="#000"/>
<rect x="302.6" y="1210.6" width="13.4" height="9.4" fill="#000"/>
<rect x="2157.4" y="1210.6" width="13.6" height="9.4" fill="#000"/>
<rect x="289.0" y="1134.8" width="27.0" height="9.4" fill="#000"/>
<rect x="2143.4" y="1134.8" width="27.6" height="9.4" fill="#000"/>
<rect x="302.6" y="1059.0" width="13.4" height="9.4" fill="#000"/>
<rect x="2157.4" y="1059.0" width="13.6" height="9.4" fill="#000"/>
<rect x="289.0" y="983.3" width="27.0" height="9.4" fill="#000"/>
<rect x="2143.4" y="983.3" width="27.6" height="9.4" fill="#000"/>
<rect x="302.6" y="907.5" width="13.4" height="9.4" fill="#000"/>
<rect x="2157.4" y="907.5" width="13.6" height="9.4" fill="#000"/>
<rect x="289.0" y="831.7" width="27.0" height="9.4" fill="#000"/>
<rect x="2143.4" y="831.7" width="27.6" height="9.4" fill="#000"/>
<rect x="302.6" y="755.9" width="13.4" height="9.4" fill="#000"/>
<rect x="2157.4" y="755.9" width="13.6" height="9.4" fill="#000"/>
<rect x="289.0" y="680.1" width="27.0" height="9.4" fill="#000"/>
<rect x="2143.4" y="680.1" width="27.6" height="9.4" fill="#000"/>
<rect x="302.6" y="604.3" width="13.4" height="9.4" fill="#000"/>
<rect x="2157.4" y="604.3" width="13.6" height="9.4" fill="#000"/>
<rect x="289.0" y="528.5" width="27.0" height="9.4" fill="#000"/>
<rect x="2143.4" y="528.5" width="27.6" height="9.4" fill="#000"/>
<rect x="302.6" y="452.7" width="13.4" height="9.4" fill="#000"/>
<rect x="2157.4" y="452.7" width="13.6" height="9.4" fill="#000"/>
<rect x="289.0" y="376.9" width="27.0" height="9.4" fill="#000"/>
<rect x="2143.4" y="376.9" width="27.6" height="9.4" fill="#000"/>
<rect x="302.6" y="301.1" width="13.4" height="9.4" fill="#000"/>
<rect x="2157.4" y="301.1" width="13.6" height="9.4" fill="#000"/>
<rect x="289.0" y="225.4" width="27.0" height="9.4" fill="#000"/>
<rect x="2143.4" y="225.4" width="27.6" height="9.4" fill="#000"/>
<rect x="302.6" y="149.6" width="13.4" height="9.4" fill="#000"/>
<rect x="2157.4" y="149.6" width="13.6" height="9.4" fill="#000"/>
<rect x="289.0" y="73.8" width="27.0" height="9.4" fill="#000"/>
<rect x="2143.4" y="73.8" width="27.6" height="9.4" fill="#000"/>
<rect x="338.0" y="1442.0" width="9.6" height="28.0" fill="#000"/>
<rect x="468.6" y="1442.0" width="9.6" height="14.0" fill="#000"/>
<rect x="599.2" y="1442.0" width="9.6" height="28.0" fill="#000"/>
<rect x="729.8" y="1442.0" width="9.6" height="14.0" fill="#000"/>
<rect x="860.3" y="1442.0" width="9.6" height="28.0" fill="#000"/>
<rect x="990.9" y="1442.0" width="9.6" height="14.0" fill="#000"/>
<rect x="1121.5" y="1442.0" width="9.6" height="28.0" fill="#000"/>
<rect x="1252.1" y="1442.0" width="9.6" height="14.0" fill="#000"/>
<rect x="1382.7" y="1442.0" width="9.6" height="28.0" fill="#000"/>
<rect x="1513.3" y="1442.0" width="9.6" height="14.0" fill="#000"/>
<rect x="1643.8" y="1442.0" width="9.6" height="28.0" fill="#000"/>
<rect x="1774.4" y="1442.0" width="9.6" height="14.0" fill="#000"/>
<rect x="1905.0" y="1442.0" width="9.6" height="28.0" fill="#000"/>
<rect x="2035.6" y="1442.0" width="9.6" height="14.0" fill="#000"/>
<text x="269.7" y="1466.0" text-anchor="end" font-size="81" font-family="'Liberation Sans', Arial, sans-serif">0.0</text>
<text x="269.7" y="1314.4" text-anchor="end" font-size="81" font-family="'Liberation Sans', Arial, sans-serif">0.5</text>
<text x="269.7" y="1162.8" text-anchor="end" font-size="81" font-family="'Liberation Sans', Arial, sans-serif">1.0</text>
<text x="269.7" y="1011.3" text-anchor="end" font-size="81" font-family="'Liberation Sans', Arial, sans-serif">1.5</text>
<text x="269.7" y="859.7" text-anchor="end" font-size="81" font-family="'Liberation Sans', Arial, sans-serif">2.0</text>
<text x="269.7" y="708.1" text-anchor="end" font-size="81" font-family="'Liberation Sans', Arial, sans-serif">2.5</text>
<text x="269.7" y="556.5" text-anchor="end" font-size="81" font-family="'Liberation Sans', Arial, sans-serif">3.0</text>
<text x="269.7" y="404.9" text-anchor="end" font-size="81" font-family="'Liberation Sans', Arial, sans-serif">3.5</text>
<text x="269.7" y="253.4" text-anchor="end" font-size="81" font-family="'Liberation Sans', Arial, sans-serif">4.0</text>
<text x="269.7" y="101.8" text-anchor="end" font-size="81" font-family="'Liberation Sans', Arial, sans-serif">4.5</text>
<text x="342.8" y="1550.7" text-anchor="middle" font-size="81" font-family="'Liberation Sans', Arial, sans-serif">0</text>
<text x="604.0" y="1550.7" text-anchor="middle" font-size="81" font-family="'Liberation Sans', Arial, sans-serif">50</text>
<text x="865.1" y="1550.7" text-anchor="middle" font-size="81" font-family="'Liberation Sans', Arial, sans-serif">100</text>
<text x="1126.3" y="1550.7" text-anchor="middle" font-size="81" font-family="'Liberation Sans', Arial, sans-serif">150</text>
<text x="1387.5" y="1550.7" text-anchor="middle" font-size="81" font-family="'Liberation Sans', Arial, sans-serif">200</text>
<text x="1648.6" y="1550.7" text-anchor="middle" font-size="81" font-family="'Liberation Sans', Arial, sans-serif">250</text>
<text x="1909.8" y="1550.7" text-anchor="middle" font-size="81" font-family="'Liberation Sans', Arial, sans-serif">300</text>
<text x="2171.0" y="1550.7" text-anchor="middle" font-size="81" font-family="'Liberation Sans', Arial, sans-serif">350</text>
<text x="1151.7" y="1687" font-size="83" font-weight="bold" font-style="italic" font-family="'Liberation Sans', Arial, sans-serif">T</text>
<text x="1222.5" y="1687" font-size="83" font-weight="bold" letter-spacing="1.3" font-family="'Liberation Sans', Arial, sans-serif">(K)</text>
<g transform="translate(0,1100) rotate(-90)">
<text transform="translate(26,100.8) skewX(-15)" x="0" y="0" font-size="74.5" font-family="'Noto Serif CJK SC', serif">χ</text>
<text x="69" y="124" font-size="58" font-weight="bold" font-style="italic" font-family="'Liberation Sans', Arial, sans-serif">p</text>
<text x="109" y="100" font-size="84" font-weight="bold" font-style="italic" font-family="'Liberation Sans', Arial, sans-serif" transform="translate(0,100) scale(1,1.04) translate(0,-100)">T</text>
<text x="180.4" y="100" font-size="84" font-weight="bold" letter-spacing="1.4" font-family="'Liberation Sans', Arial, sans-serif" transform="translate(0,100) scale(1,1.04) translate(0,-100)">(emuK/mol)</text>
</g>
<rect x="518.3" y="398.05" width="678.1" height="638.85" fill="#fff" stroke="#000" stroke-width="1.95"/>
<g shape-rendering="crispEdges"><rect x="598.4" y="444.6" width="35.3" height="34.4" fill="#000000"/><rect x="605.8" y="451.7" width="20.5" height="20.3" fill="#fff"/><ellipse cx="616.0" cy="461.8" rx="4.8" ry="3.8" fill="#000000"/></g>
<text x="710" y="485.5" font-size="66.4" font-weight="bold" font-family="'Liberation Sans', Arial, sans-serif">4.ClO<tspan font-size="42" dy="18.7">4</tspan></text>
<g shape-rendering="crispEdges"><circle cx="616.0" cy="562.6" r="15.6" fill="#fff" stroke="#ff0000" stroke-width="7.3"/><ellipse cx="616.0" cy="562.6" rx="4.8" ry="3.8" fill="#ff0000"/></g>
<text x="710" y="586.7" font-size="66.4" font-weight="bold" font-family="'Liberation Sans', Arial, sans-serif">4.BF<tspan font-size="42" dy="18.7">4</tspan><tspan dy="-18.7">.</tspan><tspan font-size="60">0.5</tspan>H<tspan font-size="42" dy="18.7">2</tspan><tspan dy="-18.7">O</tspan></text>
<g shape-rendering="crispEdges"><polygon points="612.9,637.6 619.1,637.6 639.8,673.3 639.8,679.0 592.2,679.0 592.2,673.3" fill="#0000ff"/><polygon points="616.0,647.6 630.5,672.7 601.5,672.7" fill="#fff"/><ellipse cx="616.0" cy="664.5" rx="5.0" ry="4.0" fill="#0000ff"/></g>
<text x="710" y="687.3" font-size="66.4" font-weight="bold" font-family="'Liberation Sans', Arial, sans-serif">4.PF<tspan font-size="42" dy="18.7">6</tspan><tspan dy="-18.7">.H</tspan><tspan font-size="42" dy="18.7">2</tspan><tspan dy="-18.7">O</tspan></text>
<g shape-rendering="crispEdges"><polygon points="619.1,791.4 612.9,791.4 592.2,755.7 592.2,750.0 639.8,750.0 639.8,755.7" fill="#008080"/><polygon points="616.0,781.4 601.5,756.3 630.5,756.3" fill="#fff"/><ellipse cx="616.0" cy="764.5" rx="5.0" ry="4.0" fill="#008080"/></g>
<text x="710" y="787.9" font-size="66.4" font-weight="bold" font-family="'Liberation Sans', Arial, sans-serif">4.Cl.MeCN.H<tspan font-size="42" dy="18.7">2</tspan><tspan dy="-18.7">O</tspan></text>
<g shape-rendering="crispEdges"><polygon points="589.1,869.8 589.1,863.5 624.8,842.8 630.5,842.8 630.5,890.4 624.8,890.4" fill="#ff00ff"/><polygon points="599.1,866.6 624.2,852.1 624.2,881.1" fill="#fff"/><ellipse cx="616.0" cy="866.6" rx="5.0" ry="4.0" fill="#ff00ff"/></g>
<text x="710" y="888.5" font-size="66.4" font-weight="bold" font-family="'Liberation Sans', Arial, sans-serif">4.BPh<tspan font-size="42" dy="18.7">4</tspan></text>
<g shape-rendering="crispEdges"><polygon points="642.9,963.1 642.9,969.4 607.2,990.1 601.5,990.1 601.5,942.5 607.2,942.5" fill="#808000"/><polygon points="632.9,966.3 607.8,980.8 607.8,951.8" fill="#fff"/><ellipse cx="616.0" cy="966.3" rx="5.0" ry="4.0" fill="#808000"/></g>
<text x="710" y="989.1" font-size="66.4" font-weight="bold" font-family="'Liberation Sans', Arial, sans-serif">4.SCN.<tspan font-size="60">0.5</tspan>H<tspan font-size="42" dy="18.7">2</tspan><tspan dy="-18.7">O</tspan></text>
</svg></body></html>
